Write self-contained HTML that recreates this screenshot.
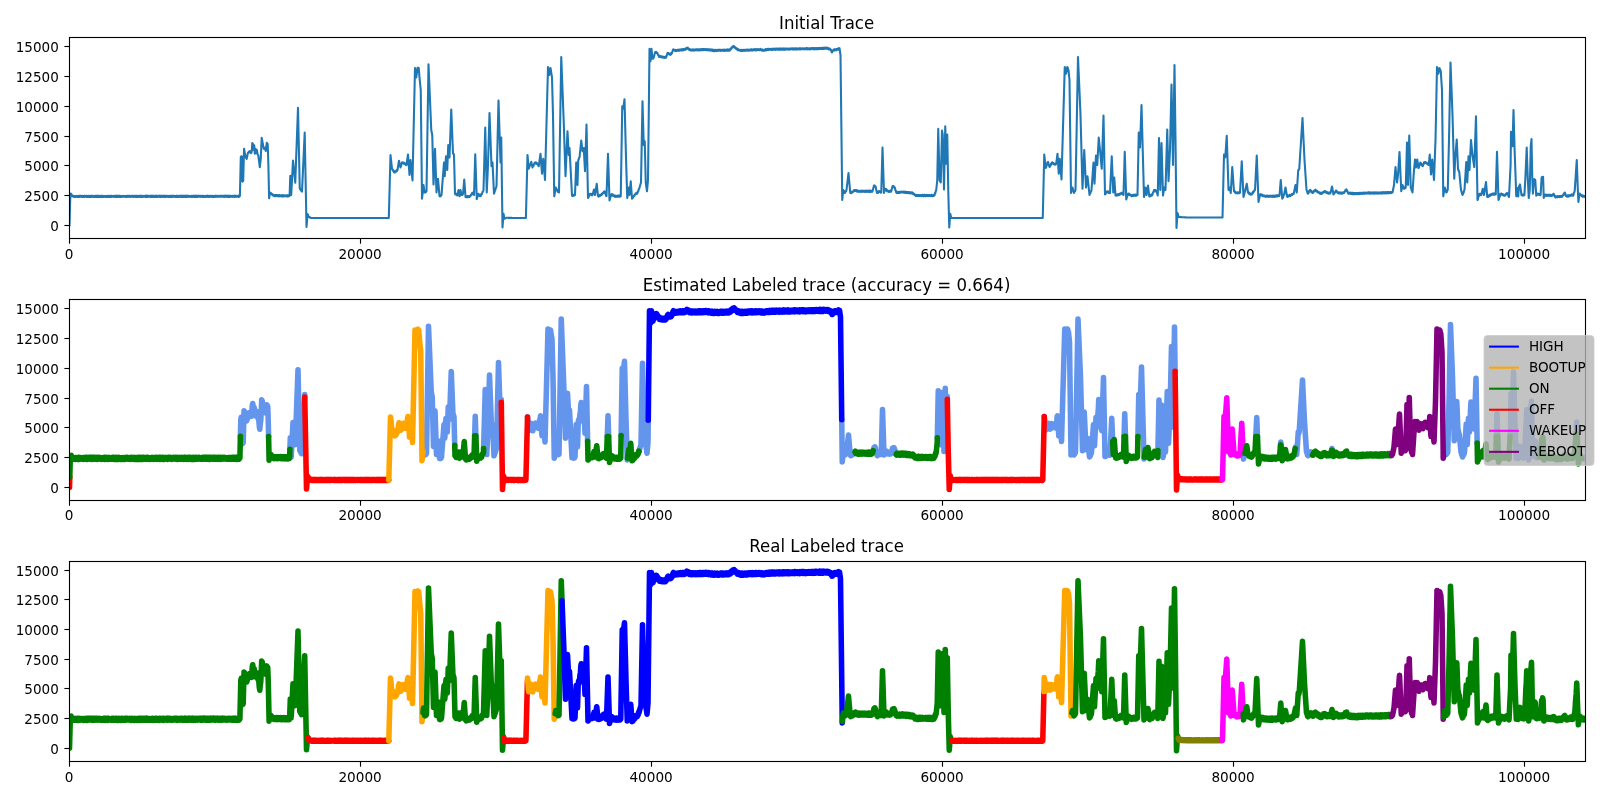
<!DOCTYPE html>
<html><head><meta charset="utf-8"><title>Trace</title>
<style>html,body{margin:0;padding:0;background:#fff}svg{display:block;will-change:transform}</style></head>
<body>
<svg width="1600" height="800" viewBox="0 0 1600 800" font-family="'DejaVu Sans', 'Liberation Sans', sans-serif">
<rect width="1600" height="800" fill="#fff"/>
<defs>
<clipPath id="c0"><rect x="69.5" y="37.5" width="1516.0" height="201.0"/></clipPath>
<clipPath id="c1"><rect x="69.5" y="299.5" width="1516.0" height="201.0"/></clipPath>
<clipPath id="c2"><rect x="69.5" y="561.5" width="1516.0" height="200.0"/></clipPath>
</defs>
<g clip-path="url(#c0)"><polyline fill="none" stroke="#1f77b4" stroke-width="2.08" stroke-linejoin="round" stroke-linecap="square" points="69.50,225.30 70.20,200.00 70.80,193.60 71.20,193.66 71.60,194.60 72.10,195.87 72.60,196.40 73.00,195.83 73.40,196.74 73.80,195.88 74.20,196.85 74.60,196.06 75.00,196.91 75.40,196.07 75.80,196.88 76.20,196.06 76.60,196.75 77.00,195.92 77.40,197.03 77.80,196.03 78.20,196.80 78.60,195.84 79.00,197.08 79.40,195.86 79.80,196.86 80.20,195.70 80.60,196.73 81.01,195.75 81.41,196.82 81.81,196.02 82.21,196.75 82.61,195.96 83.01,197.02 83.41,196.01 83.81,196.93 84.21,195.83 84.61,196.85 85.01,195.87 85.41,196.73 85.81,196.05 86.21,196.79 86.61,195.81 87.01,196.87 87.41,195.96 87.81,196.93 88.21,195.90 88.61,196.82 89.01,195.77 89.41,196.97 89.81,195.98 90.21,196.93 90.61,195.87 91.01,197.04 91.41,195.79 91.81,196.81 92.21,195.70 92.61,196.75 93.01,195.91 93.41,196.99 93.81,196.01 94.21,196.89 94.61,196.06 95.01,196.96 95.41,195.78 95.81,196.92 96.21,195.73 96.61,196.82 97.01,195.80 97.41,196.93 97.82,195.85 98.22,196.88 98.62,195.75 99.02,197.06 99.42,195.89 99.82,196.95 100.22,196.05 100.62,196.97 101.02,195.82 101.42,197.08 101.82,195.75 102.22,196.81 102.62,195.92 103.02,196.95 103.42,196.06 103.82,196.87 104.22,196.00 104.62,196.74 105.02,196.04 105.42,196.99 105.82,196.02 106.22,196.79 106.62,195.91 107.02,197.03 107.42,196.03 107.82,196.87 108.22,195.85 108.62,197.03 109.02,195.75 109.42,197.03 109.82,195.96 110.22,196.85 110.62,195.92 111.02,197.03 111.42,195.69 111.82,196.75 112.22,195.99 112.62,196.78 113.02,195.97 113.42,196.88 113.82,195.83 114.22,196.79 114.63,196.06 115.03,196.85 115.43,195.92 115.83,196.91 116.23,195.69 116.63,196.95 117.03,195.86 117.43,196.93 117.83,195.80 118.23,196.71 118.63,195.71 119.03,196.99 119.43,195.72 119.83,196.99 120.23,195.91 120.63,196.84 121.03,196.02 121.43,196.93 121.83,196.03 122.23,196.71 122.63,195.97 123.03,196.75 123.43,195.92 123.83,196.70 124.23,196.05 124.63,196.74 125.03,196.01 125.43,196.82 125.83,196.04 126.23,197.02 126.63,195.82 127.03,196.74 127.43,195.96 127.83,196.82 128.23,195.91 128.63,196.73 129.03,195.72 129.43,197.06 129.83,195.87 130.23,196.87 130.63,196.02 131.04,196.72 131.44,195.92 131.84,196.78 132.24,195.73 132.64,196.74 133.04,196.04 133.44,197.04 133.84,195.84 134.24,196.73 134.64,195.84 135.04,196.69 135.44,195.84 135.84,197.05 136.24,195.71 136.64,196.94 137.04,195.95 137.44,196.82 137.84,195.98 138.24,196.97 138.64,195.84 139.04,196.98 139.44,195.92 139.84,196.76 140.24,195.73 140.64,197.05 141.04,195.72 141.44,196.98 141.84,195.73 142.24,196.96 142.64,195.96 143.04,196.87 143.44,195.91 143.84,196.68 144.24,196.03 144.64,196.78 145.04,195.94 145.44,196.94 145.84,195.67 146.24,196.84 146.64,195.68 147.04,197.05 147.44,195.67 147.85,196.81 148.25,195.95 148.65,196.76 149.05,195.96 149.45,196.75 149.85,195.80 150.25,197.02 150.65,195.71 151.05,196.85 151.45,195.79 151.85,196.98 152.25,196.00 152.65,196.92 153.05,195.69 153.45,196.97 153.85,195.75 154.25,196.85 154.65,195.97 155.05,196.97 155.45,195.91 155.85,196.97 156.25,195.66 156.65,196.82 157.05,195.88 157.45,197.03 157.85,195.75 158.25,196.73 158.65,195.98 159.05,196.72 159.45,195.68 159.85,196.97 160.25,195.98 160.65,196.98 161.05,195.65 161.45,196.91 161.85,195.90 162.25,196.87 162.65,195.98 163.05,196.67 163.45,195.66 163.85,196.91 164.25,195.83 164.66,197.02 165.06,195.86 165.46,196.99 165.86,195.71 166.26,196.74 166.66,195.93 167.06,196.77 167.46,195.94 167.86,196.88 168.26,195.93 168.66,196.82 169.06,195.98 169.46,197.01 169.86,195.89 170.26,196.83 170.66,195.80 171.06,197.00 171.46,195.86 171.86,197.01 172.26,195.83 172.66,196.86 173.06,195.82 173.46,196.66 173.86,195.85 174.26,196.72 174.66,196.02 175.06,196.96 175.46,195.96 175.86,196.84 176.26,195.74 176.66,196.87 177.06,195.90 177.46,196.85 177.86,195.81 178.26,196.95 178.66,195.98 179.06,196.87 179.46,195.93 179.86,196.76 180.26,195.72 180.66,196.85 181.06,195.80 181.47,196.94 181.87,195.67 182.27,196.82 182.67,195.78 183.07,196.84 183.47,195.82 183.87,196.92 184.27,195.84 184.67,196.85 185.07,195.83 185.47,197.01 185.87,195.75 186.27,196.98 186.67,195.65 187.07,196.75 187.47,195.80 187.87,197.01 188.27,195.69 188.67,196.70 189.07,195.97 189.47,196.82 189.87,195.99 190.27,196.74 190.67,195.99 191.07,196.90 191.47,195.71 191.87,196.99 192.27,195.95 192.67,196.92 193.07,195.76 193.47,196.70 193.87,195.67 194.27,197.01 194.67,195.93 195.07,197.01 195.47,195.86 195.87,196.83 196.27,195.63 196.67,196.96 197.07,195.95 197.47,196.81 197.88,195.81 198.28,196.77 198.68,195.93 199.08,196.76 199.48,195.73 199.88,196.65 200.28,195.80 200.68,196.81 201.08,196.00 201.48,196.77 201.88,195.77 202.28,196.83 202.68,195.98 203.08,197.02 203.48,195.70 203.88,197.01 204.28,195.97 204.68,196.74 205.08,195.99 205.48,196.94 205.88,195.90 206.28,196.68 206.68,195.84 207.08,196.99 207.48,195.69 207.88,196.73 208.28,195.95 208.68,196.99 209.08,195.78 209.48,196.90 209.88,195.97 210.28,196.65 210.68,195.74 211.08,196.80 211.48,195.97 211.88,196.99 212.28,195.76 212.68,196.94 213.08,195.97 213.48,196.96 213.88,195.97 214.28,196.96 214.69,195.83 215.09,196.76 215.49,195.79 215.89,196.99 216.29,195.90 216.69,196.68 217.09,195.80 217.49,196.72 217.89,195.96 218.29,196.69 218.69,195.98 219.09,196.70 219.49,195.88 219.89,196.74 220.29,195.70 220.69,196.74 221.09,195.80 221.49,196.69 221.89,195.86 222.29,196.63 222.69,195.90 223.09,196.63 223.49,195.71 223.89,196.84 224.29,195.92 224.69,196.81 225.09,195.63 225.49,196.66 225.89,195.68 226.29,196.79 226.69,195.80 227.09,196.94 227.49,195.84 227.89,196.82 228.29,195.73 228.69,197.00 229.09,195.86 229.49,196.94 229.89,195.72 230.29,196.87 230.69,195.83 231.09,196.75 231.50,195.97 231.90,196.67 232.30,195.96 232.70,196.90 233.10,195.89 233.50,196.68 233.90,195.96 234.30,196.94 234.70,195.65 235.10,196.88 235.50,195.88 235.90,196.71 236.30,195.87 236.70,196.79 237.10,195.93 237.50,196.79 237.90,195.88 238.30,196.99 238.70,195.61 239.10,196.83 239.50,196.30 239.90,196.00 240.80,157.10 241.25,156.24 241.70,156.20 242.30,181.20 242.75,181.64 243.20,180.70 244.05,148.80 245.20,155.40 245.70,156.13 246.20,158.19 246.70,158.90 247.80,153.20 248.23,152.38 248.67,152.66 249.10,151.70 249.53,151.10 249.97,152.01 250.40,151.40 250.73,151.91 251.05,153.20 251.40,152.61 251.75,151.00 252.30,143.10 252.70,143.43 253.10,144.40 253.50,149.70 254.20,145.30 254.80,153.60 255.40,148.80 256.10,153.20 256.80,149.70 257.40,153.20 257.85,154.72 258.30,155.40 259.80,167.20 260.75,158.90 261.70,137.90 262.70,143.10 263.80,148.80 264.35,148.00 264.90,147.90 265.75,151.00 266.80,142.70 267.25,143.82 267.70,144.00 268.40,165.00 269.10,198.20 270.10,192.60 270.55,192.69 271.00,193.77 271.45,193.44 271.90,194.30 272.32,195.03 272.75,194.41 273.18,195.79 273.60,195.60 274.00,195.00 274.40,196.18 274.80,195.03 275.20,196.28 275.60,195.17 276.00,196.09 276.40,194.96 276.80,196.03 277.20,195.07 277.60,196.24 278.00,195.35 278.40,196.33 278.80,195.04 279.20,196.26 279.60,195.11 280.00,196.35 280.40,195.36 280.80,196.25 281.20,195.23 281.60,196.39 282.00,195.13 282.40,196.40 282.80,195.23 283.20,196.44 283.60,195.21 284.00,196.38 284.40,195.40 284.80,196.14 285.20,195.45 285.60,196.28 286.00,195.48 286.40,196.48 286.80,195.32 287.20,196.41 287.60,195.31 288.00,196.45 288.40,195.37 288.80,196.20 289.20,195.27 289.60,195.90 290.30,175.90 291.20,195.00 293.00,160.60 295.25,182.60 298.00,107.70 299.75,188.25 300.20,189.52 300.65,189.08 301.10,190.78 301.55,190.36 302.00,191.60 304.70,132.50 306.50,227.00 307.60,214.10 308.18,215.45 308.75,216.80 309.20,217.04 309.65,217.28 310.10,217.52 310.55,217.76 311.00,218.00 311.40,218.00 311.80,218.00 312.20,218.00 312.60,218.00 313.01,218.00 313.41,218.00 313.81,218.00 314.21,218.00 314.61,218.00 315.01,218.00 315.41,218.00 315.81,218.00 316.21,218.00 316.61,218.00 317.02,218.00 317.42,218.00 317.82,218.00 318.22,218.00 318.62,218.00 319.02,218.00 319.42,218.00 319.82,218.00 320.22,218.00 320.62,218.00 321.03,218.00 321.43,218.00 321.83,218.00 322.23,218.00 322.63,218.00 323.03,218.00 323.43,218.00 323.83,218.00 324.23,218.00 324.64,218.00 325.04,218.00 325.44,218.00 325.84,218.00 326.24,218.00 326.64,218.00 327.04,218.00 327.44,218.00 327.84,218.00 328.24,218.00 328.65,218.00 329.05,218.00 329.45,218.00 329.85,218.00 330.25,218.00 330.65,218.00 331.05,218.00 331.45,218.00 331.85,218.00 332.25,218.00 332.66,218.00 333.06,218.00 333.46,218.00 333.86,218.00 334.26,218.00 334.66,218.00 335.06,218.00 335.46,218.00 335.86,218.00 336.26,218.00 336.67,218.00 337.07,218.00 337.47,218.00 337.87,218.00 338.27,218.00 338.67,218.00 339.07,218.00 339.47,218.00 339.87,218.00 340.28,218.00 340.68,218.00 341.08,218.00 341.48,218.00 341.88,218.00 342.28,218.00 342.68,218.00 343.08,218.00 343.48,218.00 343.88,218.00 344.29,218.00 344.69,218.00 345.09,218.00 345.49,218.00 345.89,218.00 346.29,218.00 346.69,218.00 347.09,218.00 347.49,218.00 347.89,218.00 348.30,218.00 348.70,218.00 349.10,218.00 349.50,218.00 349.90,218.00 350.30,218.00 350.70,218.00 351.10,218.00 351.50,218.00 351.91,218.00 352.31,218.00 352.71,218.00 353.11,218.00 353.51,218.00 353.91,218.00 354.31,218.00 354.71,218.00 355.11,218.00 355.51,218.00 355.92,218.00 356.32,218.00 356.72,218.00 357.12,218.00 357.52,218.00 357.92,218.00 358.32,218.00 358.72,218.00 359.12,218.00 359.52,218.00 359.93,218.00 360.33,218.00 360.73,218.00 361.13,218.00 361.53,218.00 361.93,218.00 362.33,218.00 362.73,218.00 363.13,218.00 363.54,218.00 363.94,218.00 364.34,218.00 364.74,218.00 365.14,218.00 365.54,218.00 365.94,218.00 366.34,218.00 366.74,218.00 367.14,218.00 367.55,218.00 367.95,218.00 368.35,218.00 368.75,218.00 369.15,218.00 369.55,218.00 369.95,218.00 370.35,218.00 370.75,218.00 371.15,218.00 371.56,218.00 371.96,218.00 372.36,218.00 372.76,218.00 373.16,218.00 373.56,218.00 373.96,218.00 374.36,218.00 374.76,218.00 375.16,218.00 375.57,218.00 375.97,218.00 376.37,218.00 376.77,218.00 377.17,218.00 377.57,218.00 377.97,218.00 378.37,218.00 378.77,218.00 379.18,218.00 379.58,218.00 379.98,218.00 380.38,218.00 380.78,218.00 381.18,218.00 381.58,218.00 381.98,218.00 382.38,218.00 382.78,218.00 383.19,218.00 383.59,218.00 383.99,218.00 384.39,218.00 384.79,218.00 385.19,218.00 385.59,218.00 385.99,218.00 386.39,218.00 386.79,218.00 387.20,218.00 387.60,218.00 388.00,218.00 388.40,218.00 388.80,218.00 390.50,155.00 392.00,168.75 392.42,169.69 392.83,169.57 393.25,171.12 393.67,170.57 394.08,172.44 394.50,172.50 394.93,171.49 395.36,172.28 395.79,171.02 396.21,171.48 396.64,170.03 397.07,170.94 397.50,170.00 399.00,160.75 400.50,167.50 402.00,162.50 402.43,162.25 402.86,163.18 403.29,162.53 403.71,163.79 404.14,162.92 404.57,163.99 405.00,163.75 405.50,163.59 406.00,165.25 406.50,165.00 408.00,154.50 409.50,175.00 410.50,160.00 412.50,180.50 415.00,68.00 416.25,77.50 417.50,68.00 417.92,67.60 418.33,68.33 418.75,68.00 419.50,77.50 420.75,90.00 422.00,198.75 423.50,185.00 424.50,192.50 424.90,191.80 425.30,192.48 425.70,191.17 426.10,191.89 426.50,191.25 428.50,64.25 431.25,130.00 432.25,135.00 433.50,184.50 435.00,148.75 436.50,192.50 438.00,178.75 439.50,196.25 439.90,195.38 440.30,196.35 440.70,194.99 441.10,195.64 441.50,195.00 444.00,162.50 444.75,176.25 446.00,156.25 447.25,170.00 448.25,145.00 449.50,157.50 451.25,109.50 453.00,153.75 453.50,153.69 454.00,155.00 455.00,193.75 455.42,194.39 455.83,193.54 456.25,194.78 456.67,194.18 457.08,195.40 457.50,195.00 458.50,190.00 459.50,196.25 460.50,190.00 461.50,195.00 462.00,194.15 462.50,194.85 463.00,193.75 464.25,179.50 465.50,197.00 465.91,196.43 466.32,197.25 466.73,196.39 467.14,197.20 467.55,196.09 467.95,197.27 468.36,196.15 468.77,196.92 469.18,195.99 469.59,197.01 470.00,196.25 470.43,195.34 470.86,195.51 471.29,194.30 471.71,194.57 472.14,192.91 472.57,193.69 473.00,192.50 473.50,193.15 474.00,195.00 475.25,154.25 476.75,199.25 478.25,193.75 478.69,195.07 479.12,194.33 479.56,196.07 480.00,196.25 480.40,195.36 480.80,195.93 481.20,194.15 481.60,194.58 482.00,193.75 482.50,191.93 483.00,191.71 483.50,190.00 485.25,127.50 486.75,192.50 488.00,165.00 489.50,113.00 491.50,166.25 492.50,162.50 494.00,193.75 496.50,186.25 498.50,100.50 500.50,162.50 501.25,137.50 502.50,227.50 503.50,213.75 504.50,218.75 504.94,218.51 505.38,218.28 505.81,218.04 506.25,217.80 506.65,217.81 507.05,217.82 507.45,217.82 507.85,217.83 508.25,217.84 508.65,217.85 509.05,217.86 509.45,217.86 509.85,217.87 510.25,217.88 510.65,217.89 511.05,217.90 511.45,217.90 511.85,217.91 512.25,217.92 512.65,217.93 513.05,217.94 513.45,217.94 513.85,217.95 514.25,217.96 514.65,217.97 515.05,217.98 515.45,217.98 515.85,217.99 516.25,218.00 516.65,218.00 517.05,218.00 517.46,218.00 517.86,218.00 518.26,218.00 518.66,218.00 519.06,218.00 519.47,218.00 519.87,218.00 520.27,218.00 520.67,218.00 521.08,218.00 521.48,218.00 521.88,218.00 522.28,218.00 522.68,218.00 523.09,218.00 523.49,218.00 523.89,218.00 524.29,218.00 524.69,218.00 525.10,218.00 525.50,218.00 525.90,218.00 527.50,155.00 528.75,168.75 531.25,161.75 532.50,167.50 532.92,166.20 533.33,166.24 533.75,164.52 534.17,164.67 534.58,162.66 535.00,162.50 535.42,163.09 535.83,162.29 536.25,163.72 536.67,162.70 537.08,164.15 537.50,163.75 537.92,164.03 538.33,165.86 538.75,166.25 540.50,153.75 542.00,173.75 543.25,158.75 545.00,180.00 548.00,67.00 549.25,75.00 550.50,68.00 552.00,77.50 553.00,115.00 554.25,196.25 555.75,187.50 556.19,188.00 556.62,189.83 557.06,189.70 557.50,191.25 558.00,192.01 558.50,191.69 559.00,192.50 561.25,57.00 563.75,122.50 565.50,176.25 567.50,131.25 568.75,155.00 569.50,148.00 572.00,195.50 572.43,196.03 572.86,194.95 573.29,195.63 573.71,194.89 574.14,195.67 574.57,194.63 575.00,195.00 576.25,162.50 577.50,185.00 578.25,160.00 578.67,159.86 579.08,157.68 579.50,157.50 581.25,140.50 582.50,151.25 582.92,150.86 583.33,148.67 583.75,148.00 585.00,171.25 586.50,124.50 588.00,198.00 588.40,197.50 588.80,195.95 589.20,195.96 589.60,194.01 590.00,193.75 590.42,194.45 590.83,193.76 591.25,194.85 591.67,194.03 592.08,195.37 592.50,195.00 594.00,189.50 595.00,195.00 596.75,183.75 598.00,196.25 598.41,195.49 598.81,196.58 599.22,195.21 599.62,195.99 600.03,194.83 600.44,195.74 600.84,194.62 601.25,195.00 601.66,194.99 602.06,193.46 602.47,193.99 602.88,192.71 603.28,193.07 603.69,191.81 604.09,192.37 604.50,191.25 604.90,191.71 605.30,193.69 605.70,193.78 606.10,195.95 606.50,196.25 608.00,153.75 609.50,200.50 611.25,194.50 611.67,194.18 612.08,195.29 612.50,194.46 612.92,195.84 613.33,194.78 613.75,196.02 614.17,195.36 614.58,196.69 615.00,196.25 615.41,195.61 615.82,196.92 616.23,195.92 616.64,196.68 617.05,195.89 617.46,196.64 617.88,195.56 618.29,196.79 618.70,195.58 619.11,196.71 619.52,195.60 619.93,196.74 620.34,195.83 620.75,196.25 622.25,106.25 622.75,108.11 623.25,108.75 624.50,99.25 626.00,157.50 627.25,198.00 628.75,187.50 629.50,195.00 630.75,181.25 632.00,198.75 632.44,197.45 632.88,197.86 633.31,196.33 633.75,196.25 634.19,196.18 634.62,194.60 635.06,194.83 635.50,193.75 635.90,193.23 636.30,193.84 636.70,192.89 637.10,193.70 637.50,193.00 637.90,191.33 638.30,191.19 638.70,189.38 639.10,189.04 639.50,187.50 641.00,182.50 642.50,101.25 643.75,145.00 644.75,141.25 645.75,182.50 647.00,191.25 648.00,180.00 649.50,48.75 650.50,61.25 651.50,48.75 652.50,58.75 652.92,57.76 653.33,58.30 653.75,57.50 655.00,52.50 655.40,52.06 655.80,52.89 656.20,51.88 656.60,53.03 657.00,52.50 657.44,53.10 657.88,54.73 658.31,54.85 658.75,56.25 659.17,56.86 659.58,55.86 660.00,56.85 660.42,56.21 660.83,57.25 661.25,56.75 661.67,56.36 662.08,57.34 662.50,56.57 662.92,57.77 663.33,56.73 663.75,57.78 664.17,56.88 664.58,57.89 665.00,57.50 665.42,56.69 665.83,57.87 666.25,57.00 667.50,53.00 667.92,52.79 668.33,53.89 668.75,53.15 669.17,54.39 669.58,53.93 670.00,54.50 670.40,54.86 670.80,53.42 671.20,54.23 671.60,52.83 672.00,53.00 673.00,49.50 673.40,50.35 673.80,49.41 674.20,50.48 674.60,49.98 675.00,50.50 675.42,50.99 675.83,49.86 676.25,51.04 676.67,49.98 677.08,50.85 677.50,49.79 677.92,50.72 678.33,49.80 678.75,50.55 679.17,49.57 679.58,50.71 680.00,50.00 680.42,49.60 680.83,50.42 681.25,49.25 681.67,50.52 682.08,49.40 682.50,50.11 682.92,49.03 683.33,50.36 683.75,49.12 684.17,49.92 684.58,48.87 685.00,49.50 685.42,49.71 685.83,48.34 686.25,49.30 686.67,47.87 687.08,48.63 687.50,48.00 687.92,47.72 688.33,49.07 688.75,48.53 689.17,49.97 689.58,49.03 690.00,50.00 690.42,50.39 690.83,49.60 691.25,50.47 691.67,49.49 692.08,50.46 692.50,49.64 692.92,50.41 693.33,49.41 693.75,50.66 694.17,49.67 694.58,50.53 695.00,50.00 695.40,49.37 695.80,50.29 696.20,49.30 696.60,50.28 697.00,49.35 697.40,50.41 697.80,49.30 698.20,50.27 698.60,49.34 699.00,50.34 699.40,49.30 699.80,50.33 700.20,49.25 700.60,50.20 701.00,49.38 701.40,50.23 701.80,49.16 702.20,50.05 702.60,49.01 703.00,50.22 703.40,49.09 703.80,49.94 704.20,49.04 704.60,49.88 705.00,49.50 705.40,49.18 705.80,50.06 706.20,49.27 706.60,50.15 707.00,49.19 707.40,50.07 707.80,49.22 708.20,50.17 708.60,49.26 709.00,50.51 709.40,49.43 709.80,50.32 710.20,49.51 710.60,50.52 711.00,49.42 711.40,50.51 711.80,49.54 712.20,50.92 712.60,49.66 713.00,50.93 713.40,49.95 713.80,51.07 714.20,49.92 714.60,51.14 715.00,50.50 715.41,49.82 715.81,50.85 716.22,49.84 716.62,51.12 717.03,50.09 717.43,50.87 717.84,49.80 718.24,50.77 718.65,49.72 719.05,50.79 719.46,49.72 719.86,50.71 720.27,49.82 720.68,50.98 721.08,49.90 721.49,50.70 721.89,49.76 722.30,50.69 722.70,49.91 723.11,50.61 723.51,49.84 723.92,50.88 724.32,49.61 724.73,50.84 725.14,49.78 725.54,50.77 725.95,49.78 726.35,50.64 726.76,49.55 727.16,50.55 727.57,49.43 727.97,50.60 728.38,49.52 728.78,50.70 729.19,49.67 729.59,50.71 730.00,50.00 730.40,48.94 730.80,49.47 731.20,47.88 731.60,48.42 732.00,47.50 732.44,46.49 732.88,47.41 733.31,46.11 733.75,46.25 734.17,47.28 734.58,46.60 735.00,47.88 735.42,47.32 735.83,48.67 736.25,48.75 736.67,48.31 737.08,49.55 737.50,48.77 737.92,50.22 738.33,49.18 738.75,50.49 739.17,49.68 739.58,50.62 740.00,50.50 740.40,50.15 740.80,50.83 741.20,49.89 741.60,50.90 742.00,49.89 742.40,51.04 742.80,49.99 743.20,50.74 743.60,49.75 744.00,50.62 744.40,49.96 744.80,50.71 745.20,49.88 745.60,50.67 746.00,49.80 746.40,50.72 746.80,49.62 747.20,50.53 747.60,49.56 748.00,50.60 748.40,49.71 748.80,50.74 749.20,49.63 749.60,50.39 750.00,50.00 750.40,49.63 750.80,50.52 751.20,49.29 751.60,50.54 752.00,49.43 752.40,50.30 752.80,49.54 753.20,50.40 753.60,49.29 754.00,50.25 754.40,49.22 754.80,50.25 755.20,49.06 755.60,50.32 756.00,49.29 756.40,50.34 756.80,49.33 757.20,50.16 757.60,49.15 758.00,50.01 758.40,49.24 758.80,50.17 759.20,49.22 759.60,50.05 760.00,49.50 760.42,48.93 760.83,50.09 761.25,49.44 761.67,50.49 762.08,49.55 762.50,50.73 762.92,49.65 763.33,50.77 763.75,50.50 764.17,49.90 764.58,50.60 765.00,49.67 765.42,50.49 765.83,49.05 766.25,49.50 766.66,50.08 767.07,49.16 767.47,50.11 767.88,48.85 768.29,49.94 768.70,48.83 769.10,49.91 769.51,49.01 769.92,49.76 770.33,48.99 770.73,49.71 771.14,48.93 771.55,49.96 771.96,48.77 772.36,49.98 772.77,48.74 773.18,49.73 773.59,48.78 773.99,49.78 774.40,48.66 774.81,49.79 775.22,48.84 775.62,49.81 776.03,48.55 776.44,49.63 776.85,48.56 777.26,49.53 777.66,48.78 778.07,49.59 778.48,48.57 778.89,49.84 779.29,48.55 779.70,49.58 780.11,48.48 780.52,49.56 780.92,48.70 781.33,49.76 781.74,48.53 782.15,49.66 782.55,48.49 782.96,49.75 783.37,48.55 783.78,49.67 784.18,48.44 784.59,49.66 785.00,49.00 785.40,48.51 785.81,49.59 786.21,48.45 786.61,49.42 787.02,48.58 787.42,49.53 787.82,48.63 788.23,49.63 788.63,48.59 789.03,49.29 789.44,48.60 789.84,49.62 790.24,48.50 790.65,49.31 791.05,48.61 791.45,49.27 791.85,48.35 792.26,49.49 792.66,48.34 793.06,49.52 793.47,48.58 793.87,49.45 794.27,48.45 794.68,49.53 795.08,48.27 795.48,49.55 795.89,48.55 796.29,49.54 796.69,48.22 797.10,49.56 797.50,48.52 797.90,49.27 798.31,48.51 798.71,49.19 799.11,48.22 799.52,49.48 799.92,48.29 800.32,49.48 800.73,48.28 801.13,49.26 801.53,48.48 801.94,49.18 802.34,48.22 802.74,49.22 803.15,48.38 803.55,49.29 803.95,48.49 804.35,49.22 804.76,48.38 805.16,49.39 805.56,48.34 805.97,49.23 806.37,48.10 806.77,49.29 807.18,48.14 807.58,49.33 807.98,48.44 808.39,49.24 808.79,48.28 809.19,49.37 809.60,48.31 810.00,48.75 810.41,49.32 810.81,48.20 811.22,49.11 811.63,48.06 812.03,49.04 812.44,48.05 812.85,49.05 813.26,48.34 813.66,49.04 814.07,48.03 814.48,49.31 814.88,48.29 815.29,49.10 815.70,48.08 816.10,49.20 816.51,48.18 816.92,49.06 817.33,48.09 817.73,49.16 818.14,48.10 818.55,49.18 818.95,48.07 819.36,48.88 819.77,47.89 820.17,48.97 820.58,48.09 820.99,49.00 821.40,48.08 821.80,49.03 822.21,47.82 822.62,49.01 823.02,47.82 823.43,48.82 823.84,47.89 824.24,48.81 824.65,47.67 825.06,48.67 825.47,47.65 825.87,48.62 826.28,47.89 826.69,48.69 827.09,47.60 827.50,48.25 827.91,48.91 828.31,48.10 828.72,49.37 829.12,48.47 829.53,49.52 829.94,48.67 830.34,49.95 830.75,49.50 831.17,49.90 831.58,52.06 832.00,52.50 832.42,51.22 832.83,51.27 833.25,50.00 833.67,49.58 834.10,50.54 834.52,49.28 834.95,50.40 835.38,49.37 835.80,50.18 836.23,49.04 836.65,50.14 837.08,49.19 837.50,49.50 837.90,49.74 838.30,48.34 838.70,49.16 839.10,48.11 839.50,48.25 840.50,55.00 842.25,200.00 843.25,190.00 843.69,191.18 844.12,190.91 844.56,192.89 845.00,193.00 845.50,191.63 846.00,191.38 846.50,190.00 848.50,173.00 850.25,193.00 850.70,192.39 851.15,193.04 851.60,191.88 852.05,192.58 852.50,192.00 852.92,191.23 853.33,191.72 853.75,190.31 854.17,191.26 854.58,189.98 855.00,190.00 855.42,190.89 855.83,190.06 856.25,191.09 856.67,190.14 857.08,191.66 857.50,191.25 857.92,190.65 858.33,191.73 858.75,190.86 859.17,191.81 859.58,190.89 860.00,191.64 860.42,190.79 860.83,191.58 861.25,190.78 861.67,191.87 862.08,190.67 862.50,191.76 862.92,190.69 863.33,191.74 863.75,190.88 864.17,191.80 864.58,190.78 865.00,191.25 865.42,191.85 865.83,190.59 866.25,191.73 866.67,190.71 867.08,191.85 867.50,190.77 867.92,191.65 868.33,190.66 868.75,191.90 869.17,190.64 869.58,191.83 870.00,190.61 870.42,191.83 870.83,190.69 871.25,191.74 871.67,190.81 872.08,191.81 872.50,191.25 874.00,185.50 874.50,185.40 875.00,186.48 875.50,186.25 877.00,193.00 877.42,192.09 877.83,193.01 878.25,191.57 878.67,192.24 879.08,191.06 879.50,191.25 879.94,192.05 880.38,191.32 880.81,192.66 881.25,192.50 882.50,147.50 884.00,193.00 884.50,191.01 885.00,190.84 885.50,188.75 885.90,188.86 886.30,190.32 886.70,189.64 887.10,191.21 887.50,191.25 887.92,190.75 888.33,191.94 888.75,190.92 889.17,191.77 889.58,190.87 890.00,191.87 890.42,190.57 890.83,191.76 891.25,191.25 892.50,186.25 892.90,186.05 893.30,187.09 893.70,186.18 894.10,187.44 894.50,187.00 894.94,187.86 895.38,190.31 895.81,190.49 896.25,192.50 896.67,192.98 897.08,191.96 897.50,193.08 897.92,191.97 898.33,192.91 898.75,191.83 899.17,192.88 899.58,191.87 900.00,192.89 900.42,191.71 900.83,192.47 901.25,191.68 901.67,192.54 902.08,191.71 902.50,192.00 902.90,192.52 903.30,191.60 903.70,192.70 904.10,191.71 904.50,192.62 904.90,191.84 905.30,192.88 905.70,191.64 906.10,192.88 906.50,192.00 906.90,193.06 907.30,192.01 907.70,192.92 908.10,192.20 908.50,193.21 908.90,192.01 909.30,193.24 909.70,192.22 910.10,193.29 910.50,192.40 910.90,193.53 911.30,192.43 911.70,193.48 912.10,192.33 912.50,193.00 912.93,193.99 913.36,193.22 913.79,194.50 914.21,193.90 914.64,195.15 915.07,194.51 915.50,195.50 915.91,195.95 916.33,194.86 916.74,195.92 917.15,195.04 917.57,195.91 917.98,195.02 918.39,195.89 918.80,195.18 919.22,196.09 919.63,195.08 920.04,195.91 920.46,195.07 920.87,196.00 921.28,195.02 921.70,196.06 922.11,194.93 922.52,195.95 922.93,194.83 923.35,196.14 923.76,195.16 924.17,196.13 924.59,194.84 925.00,195.50 925.40,196.12 925.80,195.13 926.21,196.14 926.61,194.94 927.01,195.82 927.41,195.18 927.82,196.18 928.22,194.93 928.62,195.91 929.02,195.15 929.42,195.87 929.83,195.10 930.23,196.11 930.63,195.05 931.03,195.87 931.43,194.84 931.84,196.12 932.24,195.12 932.64,196.16 933.04,194.95 933.45,196.12 933.85,194.93 934.25,195.50 934.65,195.06 935.05,192.68 935.45,192.84 935.85,190.71 936.25,190.00 937.25,180.00 938.25,128.75 939.50,180.00 939.92,181.42 940.33,181.15 940.75,182.50 942.00,130.50 942.75,135.00 944.00,189.50 945.25,126.25 946.25,163.75 947.25,134.50 948.25,190.00 949.25,227.50 950.25,213.75 951.25,218.00 951.65,218.00 952.05,218.00 952.46,218.00 952.86,218.00 953.26,218.00 953.66,218.00 954.06,218.00 954.46,218.00 954.87,218.00 955.27,218.00 955.67,218.00 956.07,218.00 956.47,218.00 956.88,218.00 957.28,218.00 957.68,218.00 958.08,218.00 958.48,218.00 958.88,218.00 959.29,218.00 959.69,218.00 960.09,218.00 960.49,218.00 960.89,218.00 961.29,218.00 961.70,218.00 962.10,218.00 962.50,218.00 962.90,218.00 963.30,218.00 963.70,218.00 964.11,218.00 964.51,218.00 964.91,218.00 965.31,218.00 965.71,218.00 966.11,218.00 966.51,218.00 966.91,218.00 967.32,218.00 967.72,218.00 968.12,218.00 968.52,218.00 968.92,218.00 969.32,218.00 969.72,218.00 970.12,218.00 970.52,218.00 970.93,218.00 971.33,218.00 971.73,218.00 972.13,218.00 972.53,218.00 972.93,218.00 973.33,218.00 973.74,218.00 974.14,218.00 974.54,218.00 974.94,218.00 975.34,218.00 975.74,218.00 976.14,218.00 976.54,218.00 976.95,218.00 977.35,218.00 977.75,218.00 978.15,218.00 978.55,218.00 978.95,218.00 979.35,218.00 979.75,218.00 980.15,218.00 980.56,218.00 980.96,218.00 981.36,218.00 981.76,218.00 982.16,218.00 982.56,218.00 982.96,218.00 983.37,218.00 983.77,218.00 984.17,218.00 984.57,218.00 984.97,218.00 985.37,218.00 985.77,218.00 986.17,218.00 986.58,218.00 986.98,218.00 987.38,218.00 987.78,218.00 988.18,218.00 988.58,218.00 988.98,218.00 989.38,218.00 989.78,218.00 990.19,218.00 990.59,218.00 990.99,218.00 991.39,218.00 991.79,218.00 992.19,218.00 992.59,218.00 993.00,218.00 993.40,218.00 993.80,218.00 994.20,218.00 994.60,218.00 995.00,218.00 995.40,218.00 995.80,218.00 996.21,218.00 996.61,218.00 997.01,218.00 997.41,218.00 997.81,218.00 998.21,218.00 998.61,218.00 999.01,218.00 999.41,218.00 999.82,218.00 1000.22,218.00 1000.62,218.00 1001.02,218.00 1001.42,218.00 1001.82,218.00 1002.22,218.00 1002.62,218.00 1003.03,218.00 1003.43,218.00 1003.83,218.00 1004.23,218.00 1004.63,218.00 1005.03,218.00 1005.43,218.00 1005.84,218.00 1006.24,218.00 1006.64,218.00 1007.04,218.00 1007.44,218.00 1007.84,218.00 1008.24,218.00 1008.64,218.00 1009.04,218.00 1009.45,218.00 1009.85,218.00 1010.25,218.00 1010.65,218.00 1011.05,218.00 1011.45,218.00 1011.85,218.00 1012.25,218.00 1012.66,218.00 1013.06,218.00 1013.46,218.00 1013.86,218.00 1014.26,218.00 1014.66,218.00 1015.06,218.00 1015.47,218.00 1015.87,218.00 1016.27,218.00 1016.67,218.00 1017.07,218.00 1017.47,218.00 1017.87,218.00 1018.27,218.00 1018.67,218.00 1019.08,218.00 1019.48,218.00 1019.88,218.00 1020.28,218.00 1020.68,218.00 1021.08,218.00 1021.48,218.00 1021.88,218.00 1022.29,218.00 1022.69,218.00 1023.09,218.00 1023.49,218.00 1023.89,218.00 1024.29,218.00 1024.69,218.00 1025.10,218.00 1025.50,218.00 1025.90,218.00 1026.30,218.00 1026.70,218.00 1027.10,218.00 1027.50,218.00 1027.90,218.00 1028.31,218.00 1028.71,218.00 1029.11,218.00 1029.51,218.00 1029.91,218.00 1030.31,218.00 1030.71,218.00 1031.11,218.00 1031.52,218.00 1031.92,218.00 1032.32,218.00 1032.72,218.00 1033.12,218.00 1033.52,218.00 1033.92,218.00 1034.32,218.00 1034.72,218.00 1035.13,218.00 1035.53,218.00 1035.93,218.00 1036.33,218.00 1036.73,218.00 1037.13,218.00 1037.53,218.00 1037.93,218.00 1038.34,218.00 1038.74,218.00 1039.14,218.00 1039.54,218.00 1039.94,218.00 1040.34,218.00 1040.74,218.00 1041.14,218.00 1041.55,218.00 1041.95,218.00 1042.35,218.00 1042.75,218.00 1044.25,154.50 1045.75,168.00 1046.20,167.24 1046.65,165.15 1047.10,164.88 1047.55,162.39 1048.00,161.75 1049.50,167.00 1049.92,166.65 1050.33,164.96 1050.75,165.41 1051.17,163.34 1051.58,163.77 1052.00,162.50 1052.42,162.29 1052.83,163.63 1053.25,162.99 1053.67,164.06 1054.08,163.57 1054.50,164.25 1054.94,164.71 1055.38,163.55 1055.81,164.41 1056.25,163.75 1057.50,153.75 1058.75,173.75 1059.75,158.75 1061.50,179.50 1064.75,67.00 1066.00,73.75 1067.25,67.00 1067.67,67.53 1068.08,69.51 1068.50,70.00 1069.50,80.00 1071.00,193.00 1072.50,187.50 1074.00,193.00 1074.50,191.63 1075.00,191.33 1075.50,190.00 1078.00,57.00 1080.50,115.00 1082.50,188.75 1084.25,150.00 1086.00,187.50 1087.50,176.25 1089.50,195.00 1089.90,193.30 1090.30,193.46 1090.70,191.64 1091.10,191.56 1091.50,190.00 1093.50,162.50 1094.50,183.75 1096.00,155.50 1097.25,165.00 1098.75,137.50 1100.25,152.50 1101.75,168.75 1103.50,115.50 1105.00,194.50 1105.42,193.34 1105.83,193.79 1106.25,192.33 1106.67,192.78 1107.08,191.28 1107.50,191.25 1107.92,191.86 1108.33,191.51 1108.75,192.82 1109.17,191.77 1109.58,193.21 1110.00,193.00 1111.75,156.25 1113.25,192.50 1114.25,177.50 1115.50,195.50 1115.91,194.84 1116.31,195.67 1116.72,194.51 1117.12,195.48 1117.53,194.20 1117.94,195.36 1118.34,193.99 1118.75,194.50 1119.17,195.02 1119.58,193.75 1120.00,194.33 1120.42,193.44 1120.83,194.05 1121.25,193.15 1121.67,193.67 1122.08,192.64 1122.50,193.00 1123.00,194.65 1123.50,195.00 1124.75,151.75 1126.25,199.50 1128.00,193.75 1128.41,193.48 1128.81,194.87 1129.22,193.74 1129.62,194.96 1130.03,194.30 1130.44,195.53 1130.84,194.92 1131.25,195.50 1131.67,196.15 1132.08,195.02 1132.50,195.93 1132.92,194.81 1133.33,196.02 1133.75,194.73 1134.17,195.73 1134.58,194.75 1135.00,195.58 1135.42,194.48 1135.83,195.83 1136.25,194.70 1136.67,195.40 1137.08,194.62 1137.50,195.00 1138.75,132.50 1140.00,147.50 1141.50,105.00 1143.00,160.00 1144.00,197.00 1145.50,187.50 1146.50,195.00 1148.00,185.50 1149.25,196.25 1149.66,196.48 1150.06,195.15 1150.47,196.26 1150.88,194.74 1151.28,195.49 1151.69,194.32 1152.09,195.31 1152.50,194.50 1153.00,192.44 1153.50,192.19 1154.00,190.00 1154.42,189.87 1154.83,190.79 1155.25,190.02 1155.67,191.51 1156.08,190.47 1156.50,191.25 1157.75,195.50 1159.00,138.00 1160.25,190.00 1161.50,143.00 1163.00,195.50 1164.25,187.50 1164.67,188.76 1165.08,188.62 1165.50,190.00 1167.25,129.50 1168.50,181.25 1170.00,150.00 1171.50,84.50 1173.00,165.00 1174.50,65.00 1175.50,140.00 1176.50,228.00 1177.50,213.00 1178.75,217.00 1179.17,217.02 1179.58,217.05 1180.00,217.07 1180.42,217.10 1180.83,217.12 1181.25,217.14 1181.67,217.17 1182.08,217.19 1182.50,217.21 1182.92,217.24 1183.33,217.26 1183.75,217.29 1184.17,217.31 1184.58,217.33 1185.00,217.36 1185.42,217.38 1185.83,217.40 1186.25,217.43 1186.67,217.45 1187.08,217.48 1187.50,217.50 1187.90,217.50 1188.30,217.50 1188.71,217.50 1189.11,217.50 1189.51,217.50 1189.91,217.50 1190.32,217.50 1190.72,217.50 1191.12,217.50 1191.52,217.50 1191.93,217.50 1192.33,217.50 1192.73,217.50 1193.13,217.50 1193.53,217.50 1193.94,217.50 1194.34,217.50 1194.74,217.50 1195.14,217.50 1195.55,217.50 1195.95,217.50 1196.35,217.50 1196.75,217.50 1197.16,217.50 1197.56,217.50 1197.96,217.50 1198.36,217.50 1198.76,217.50 1199.17,217.50 1199.57,217.50 1199.97,217.50 1200.37,217.50 1200.78,217.50 1201.18,217.50 1201.58,217.50 1201.98,217.50 1202.39,217.50 1202.79,217.50 1203.19,217.50 1203.59,217.50 1203.99,217.50 1204.40,217.50 1204.80,217.50 1205.20,217.50 1205.60,217.50 1206.01,217.50 1206.41,217.50 1206.81,217.50 1207.21,217.50 1207.61,217.50 1208.02,217.50 1208.42,217.50 1208.82,217.50 1209.22,217.50 1209.63,217.50 1210.03,217.50 1210.43,217.50 1210.83,217.50 1211.24,217.50 1211.64,217.50 1212.04,217.50 1212.44,217.50 1212.84,217.50 1213.25,217.50 1213.65,217.50 1214.05,217.50 1214.45,217.50 1214.86,217.50 1215.26,217.50 1215.66,217.50 1216.06,217.50 1216.47,217.50 1216.87,217.50 1217.27,217.50 1217.67,217.50 1218.07,217.50 1218.48,217.50 1218.88,217.50 1219.28,217.50 1219.68,217.50 1220.09,217.50 1220.49,217.50 1220.89,217.50 1221.29,217.50 1221.70,217.50 1222.10,217.50 1222.50,217.50 1224.00,154.50 1224.42,155.82 1224.83,155.83 1225.25,157.50 1226.75,135.75 1228.50,190.00 1229.00,189.25 1229.50,187.50 1230.75,193.00 1232.25,167.00 1234.00,191.25 1234.45,190.95 1234.90,192.37 1235.35,191.91 1235.80,193.29 1236.25,193.00 1236.67,192.49 1237.08,193.27 1237.50,192.38 1237.92,193.32 1238.33,192.41 1238.75,193.18 1239.17,192.12 1239.58,193.07 1240.00,192.50 1241.75,161.25 1243.50,197.00 1245.00,191.25 1246.75,183.75 1248.00,192.50 1248.41,192.39 1248.81,193.59 1249.22,192.62 1249.62,194.15 1250.03,193.31 1250.44,194.59 1250.84,193.79 1251.25,194.50 1251.67,194.60 1252.08,193.16 1252.50,193.65 1252.92,191.82 1253.33,192.51 1253.75,190.99 1254.17,191.52 1254.58,189.98 1255.00,190.00 1256.75,155.50 1258.50,202.00 1260.00,194.50 1260.42,194.97 1260.83,194.10 1261.25,195.34 1261.67,194.70 1262.08,195.58 1262.50,194.96 1262.92,196.15 1263.33,195.34 1263.75,196.16 1264.17,195.37 1264.58,196.49 1265.00,196.25 1265.40,195.93 1265.80,196.80 1266.20,195.71 1266.60,196.77 1267.00,195.66 1267.40,196.60 1267.80,195.60 1268.20,196.84 1268.60,195.92 1269.00,196.61 1269.40,195.74 1269.80,196.76 1270.20,195.83 1270.60,196.61 1271.00,195.78 1271.40,196.62 1271.80,195.71 1272.20,196.90 1272.60,195.88 1273.00,196.79 1273.40,195.65 1273.80,196.63 1274.20,195.62 1274.60,196.93 1275.00,196.25 1275.41,195.72 1275.82,196.59 1276.23,195.41 1276.64,196.49 1277.05,195.44 1277.45,196.52 1277.86,195.16 1278.27,196.15 1278.68,195.23 1279.09,196.01 1279.50,195.50 1280.75,180.00 1282.25,198.75 1282.69,197.33 1283.12,197.57 1283.56,195.31 1284.00,195.00 1285.50,187.50 1287.00,196.25 1287.43,196.81 1287.86,195.41 1288.29,196.57 1288.71,195.49 1289.14,196.23 1289.57,194.92 1290.00,195.50 1290.42,195.98 1290.83,194.70 1291.25,195.39 1291.67,194.16 1292.08,194.98 1292.50,193.81 1292.92,194.48 1293.33,193.46 1293.75,193.75 1295.50,185.00 1296.75,192.50 1298.25,170.00 1298.75,169.88 1299.25,168.75 1302.50,118.00 1304.50,160.00 1306.50,190.00 1307.00,190.93 1307.50,192.87 1308.00,193.75 1308.40,192.31 1308.80,192.86 1309.20,190.82 1309.60,191.31 1310.00,190.00 1310.42,189.87 1310.83,191.66 1311.25,190.84 1311.67,192.33 1312.08,191.94 1312.50,193.00 1312.92,192.92 1313.33,191.42 1313.75,191.92 1314.17,190.48 1314.58,191.17 1315.00,190.00 1315.42,189.72 1315.83,190.97 1316.25,190.32 1316.67,191.59 1317.08,190.71 1317.50,192.09 1317.92,191.51 1318.33,192.79 1318.75,192.50 1319.17,192.35 1319.58,193.46 1320.00,192.44 1320.42,193.85 1320.83,193.12 1321.25,193.75 1321.66,193.93 1322.06,192.60 1322.47,193.18 1322.88,192.14 1323.28,192.55 1323.69,191.45 1324.09,192.03 1324.50,191.25 1324.93,191.07 1325.36,192.16 1325.79,191.65 1326.21,192.78 1326.64,191.86 1327.07,193.30 1327.50,193.00 1327.93,192.47 1328.36,193.57 1328.79,192.61 1329.21,193.59 1329.64,192.51 1330.07,193.53 1330.50,193.00 1332.00,186.50 1333.50,194.50 1333.96,193.28 1334.42,193.66 1334.88,192.07 1335.33,192.24 1335.79,190.77 1336.25,190.50 1336.69,191.64 1337.12,191.29 1337.56,192.92 1338.00,193.00 1338.41,192.68 1338.82,193.45 1339.23,192.35 1339.64,193.41 1340.05,192.47 1340.46,193.50 1340.88,192.58 1341.29,193.70 1341.70,192.57 1342.11,193.61 1342.52,192.62 1342.93,193.34 1343.34,192.35 1343.75,193.00 1344.17,192.86 1344.58,191.41 1345.00,191.59 1345.42,190.02 1345.83,190.47 1346.25,189.25 1346.69,189.83 1347.12,191.53 1347.56,191.38 1348.00,193.00 1348.41,193.64 1348.82,192.71 1349.24,193.58 1349.65,192.73 1350.06,193.80 1350.47,192.71 1350.88,193.95 1351.29,192.72 1351.71,193.91 1352.12,192.84 1352.53,194.09 1352.94,192.92 1353.35,194.07 1353.76,193.00 1354.18,194.25 1354.59,193.04 1355.00,193.75 1355.40,194.09 1355.81,193.05 1356.21,193.99 1356.61,193.04 1357.02,194.17 1357.42,193.10 1357.82,194.27 1358.23,193.02 1358.63,194.01 1359.03,192.89 1359.44,194.13 1359.84,192.91 1360.24,193.90 1360.65,192.92 1361.05,193.88 1361.45,192.77 1361.85,193.77 1362.26,192.85 1362.66,193.82 1363.06,192.80 1363.47,193.68 1363.87,192.60 1364.27,193.84 1364.68,192.66 1365.08,193.63 1365.48,192.74 1365.89,193.53 1366.29,192.70 1366.69,193.58 1367.10,192.49 1367.50,193.00 1367.90,193.35 1368.31,192.33 1368.71,193.44 1369.11,192.36 1369.52,193.64 1369.92,192.32 1370.32,193.39 1370.73,192.52 1371.13,193.67 1371.53,192.68 1371.94,193.33 1372.34,192.47 1372.74,193.51 1373.15,192.33 1373.55,193.61 1373.95,192.48 1374.35,193.70 1374.76,192.49 1375.16,193.51 1375.56,192.42 1375.97,193.46 1376.37,192.55 1376.77,193.54 1377.18,192.55 1377.58,193.68 1377.98,192.42 1378.39,193.52 1378.79,192.65 1379.19,193.46 1379.60,192.53 1380.00,193.00 1380.40,193.51 1380.81,192.43 1381.21,193.61 1381.61,192.25 1382.02,193.42 1382.42,192.42 1382.82,193.44 1383.23,192.17 1383.63,193.30 1384.03,192.32 1384.44,193.45 1384.84,192.43 1385.24,193.23 1385.65,192.08 1386.05,193.39 1386.45,192.23 1386.85,193.08 1387.26,192.05 1387.66,193.27 1388.06,192.05 1388.47,193.36 1388.87,191.99 1389.27,193.11 1389.68,192.24 1390.08,193.02 1390.48,192.07 1390.89,193.07 1391.29,192.16 1391.69,192.92 1392.10,191.96 1392.50,192.50 1394.00,185.00 1395.50,167.00 1397.00,182.50 1398.00,175.00 1399.50,152.00 1401.25,191.25 1402.50,185.00 1402.94,186.48 1403.38,186.42 1403.81,188.51 1404.25,188.75 1404.75,187.77 1405.25,188.25 1405.75,187.50 1407.00,142.50 1408.00,185.00 1409.25,135.50 1410.75,187.50 1411.19,188.28 1411.62,190.62 1412.06,190.82 1412.50,192.50 1414.00,170.00 1415.00,159.50 1416.00,167.50 1417.25,159.50 1418.50,168.00 1418.90,167.48 1419.30,165.48 1419.70,165.13 1420.10,162.96 1420.50,162.50 1420.90,163.79 1421.30,163.43 1421.70,165.14 1422.10,164.99 1422.50,166.25 1422.90,165.93 1423.30,164.13 1423.70,164.26 1424.10,162.33 1424.50,162.00 1424.93,162.95 1425.36,161.96 1425.79,163.22 1426.21,162.64 1426.64,163.63 1427.07,162.89 1427.50,163.75 1427.92,164.52 1428.33,164.23 1428.75,165.00 1429.75,154.50 1431.00,174.50 1432.25,159.50 1434.00,180.00 1435.50,140.00 1437.00,67.00 1438.25,73.75 1439.50,68.00 1439.92,69.46 1440.33,69.65 1440.75,71.25 1442.00,90.00 1443.25,196.25 1444.75,187.50 1446.25,192.50 1446.75,192.30 1447.25,190.28 1447.75,190.00 1449.00,140.00 1450.50,62.50 1452.50,115.00 1454.25,178.75 1455.25,157.50 1456.75,139.50 1458.00,168.75 1458.42,170.46 1458.83,170.58 1459.25,172.00 1461.00,190.00 1462.50,195.00 1462.90,194.32 1463.30,192.39 1463.70,192.44 1464.10,190.41 1464.50,190.00 1466.25,162.00 1467.25,182.50 1468.50,156.25 1469.50,170.00 1471.00,140.00 1472.50,155.50 1474.25,167.00 1476.00,116.25 1477.50,200.00 1477.90,199.20 1478.30,197.12 1478.70,196.67 1479.10,194.65 1479.50,193.75 1479.94,194.73 1480.38,193.84 1480.81,195.14 1481.25,195.00 1482.75,188.75 1484.00,195.00 1486.00,182.00 1487.25,197.00 1487.71,196.18 1488.17,196.80 1488.62,195.66 1489.08,196.32 1489.54,194.79 1490.00,195.00 1490.42,195.55 1490.83,194.24 1491.25,195.14 1491.67,194.03 1492.08,194.64 1492.50,193.49 1492.92,194.67 1493.33,193.45 1493.75,193.75 1494.15,194.56 1494.55,193.42 1494.95,194.63 1495.35,193.80 1495.75,194.50 1497.00,151.75 1498.50,200.00 1498.90,199.43 1499.30,196.99 1499.70,196.93 1500.10,194.59 1500.50,193.75 1500.91,194.38 1501.32,193.49 1501.73,194.65 1502.14,193.99 1502.55,195.24 1502.95,194.26 1503.36,195.55 1503.77,194.69 1504.18,195.65 1504.59,194.98 1505.00,195.60 1505.45,195.47 1505.90,193.87 1506.35,194.47 1506.80,192.99 1507.25,193.00 1507.69,194.36 1508.12,194.48 1508.56,196.46 1509.00,197.00 1510.60,165.00 1511.00,131.90 1512.50,146.25 1513.50,110.00 1514.60,150.00 1515.60,177.50 1516.25,196.25 1517.25,188.00 1518.25,196.50 1518.75,187.50 1519.17,186.00 1519.58,185.77 1520.00,184.40 1521.50,195.00 1521.91,194.64 1522.33,195.63 1522.74,194.55 1523.16,195.41 1523.57,194.61 1523.99,195.42 1524.40,195.00 1525.40,177.50 1526.70,147.60 1527.75,177.50 1528.75,198.00 1529.75,190.00 1530.75,146.00 1531.50,139.00 1532.25,177.50 1532.90,193.75 1534.00,179.40 1534.42,179.11 1534.83,179.96 1535.25,179.75 1536.25,195.60 1536.67,194.41 1537.08,194.81 1537.50,193.75 1537.94,193.55 1538.39,194.69 1538.83,193.94 1539.27,194.88 1539.71,194.01 1540.16,195.19 1540.60,195.00 1541.60,177.50 1542.10,176.81 1542.60,177.74 1543.10,176.90 1543.75,198.00 1544.17,196.38 1544.58,196.38 1545.00,195.00 1545.42,194.58 1545.83,195.66 1546.25,194.64 1546.67,195.82 1547.08,194.77 1547.50,195.88 1547.92,194.72 1548.33,195.67 1548.75,194.81 1549.17,195.70 1549.58,194.78 1550.00,195.82 1550.42,194.77 1550.83,196.01 1551.25,195.04 1551.67,195.94 1552.08,195.02 1552.50,195.60 1552.92,195.38 1553.33,193.72 1553.75,193.75 1554.17,195.16 1554.58,195.34 1555.00,196.90 1555.42,197.39 1555.83,196.41 1556.25,197.40 1556.67,196.29 1557.08,197.29 1557.50,196.15 1557.92,197.08 1558.33,196.15 1558.75,196.92 1559.17,196.16 1559.58,197.15 1560.00,196.03 1560.42,197.00 1560.83,196.04 1561.25,196.89 1561.67,195.87 1562.08,196.79 1562.50,196.25 1562.95,195.07 1563.40,195.09 1563.85,193.57 1564.30,193.65 1564.75,192.50 1565.25,193.39 1565.75,195.59 1566.25,196.25 1566.67,195.75 1567.08,196.58 1567.50,195.37 1567.92,196.57 1568.33,195.23 1568.75,196.46 1569.17,195.38 1569.58,196.09 1570.00,195.60 1570.42,194.99 1570.83,195.61 1571.25,194.75 1571.71,194.39 1572.17,195.63 1572.64,194.91 1573.10,195.60 1573.51,194.92 1573.92,192.52 1574.34,192.26 1574.75,190.60 1575.60,177.50 1576.75,160.00 1577.75,187.50 1578.40,201.90 1579.40,193.75 1579.86,193.57 1580.33,195.13 1580.79,194.58 1581.25,195.60 1581.67,196.08 1582.08,195.44 1582.50,196.57 1582.92,195.40 1583.33,196.69 1583.75,195.87 1584.17,196.63 1584.58,196.02 1585.00,196.50"/></g>
<g clip-path="url(#c1)" fill="none" stroke-width="5.56" stroke-linejoin="round" stroke-linecap="round">
<polyline stroke="#6495ed" points="240.40,436.39 240.80,419.10 241.25,417.29 241.70,418.20 242.30,443.20 242.75,443.50 243.20,442.70 244.05,410.80 244.62,412.01 245.20,417.40 245.70,420.14 246.20,417.70 246.70,420.90 247.25,419.24 247.80,415.20 248.23,413.16 248.67,416.10 249.10,413.70 249.53,412.54 249.97,414.79 250.40,413.40 250.73,412.40 251.05,415.20 251.40,416.29 251.75,413.00 252.30,405.10 252.70,403.49 253.10,406.40 253.50,411.70 253.85,410.68 254.20,407.30 254.50,409.78 254.80,415.60 255.40,410.80 255.75,414.99 256.10,415.20 256.45,411.78 256.80,411.70 257.40,415.20 257.85,418.20 258.30,417.40 258.80,420.06 259.30,426.39 259.80,429.20 260.27,423.88 260.75,420.90 261.23,411.48 261.70,399.90 262.20,400.77 262.70,405.10 263.25,409.64 263.80,410.80 264.35,408.60 264.90,409.90 265.32,412.67 265.75,413.00 266.27,407.58 266.80,404.70 267.25,406.64 267.70,406.00 268.05,414.40 268.40,427.00 268.60,436.49"/>
<polyline stroke="#6495ed" points="289.90,449.33 290.30,437.90 291.20,457.00 293.00,422.60 295.25,444.60 298.00,369.70 299.75,450.25 300.20,449.99 300.65,452.13 301.10,451.56 301.55,453.71 302.00,453.60 304.70,394.50 304.75,397.13"/>
<polyline stroke="#6495ed" points="423.00,451.58 423.50,447.00 424.50,454.50 424.90,453.32 425.30,454.92 425.70,452.70 426.10,454.24 426.50,453.25 428.50,326.25 431.25,392.00 432.25,397.00 433.50,446.50 435.00,410.75 436.50,454.50 438.00,440.75 439.50,458.25 439.90,457.01 440.30,458.65 440.70,456.49 441.10,458.23 441.50,457.00 444.00,424.50 444.38,429.29 444.75,438.25 445.17,433.74 445.58,422.67 446.00,418.25 446.42,424.68 446.83,425.72 447.25,432.00 447.75,421.43 448.25,407.00 448.67,409.12 449.08,416.90 449.50,419.50 451.25,371.50 453.00,415.75 453.50,414.81 454.00,417.00 454.73,445.29"/>
<polyline stroke="#6495ed" points="474.65,435.81 475.25,416.25 475.90,435.75"/>
<polyline stroke="#6495ed" points="483.60,448.43 485.25,389.50 486.75,454.50 488.00,427.00 489.50,375.00 491.50,428.25 492.00,424.31 492.50,424.50 494.00,455.75 496.50,448.25 498.50,362.50 500.50,424.50 500.88,413.64 501.25,399.50 501.29,402.38"/>
<polyline stroke="#6495ed" points="527.50,417.00 527.50,417.00 527.92,419.55 528.33,427.73 528.75,430.75 529.17,427.39 529.58,429.57 530.00,425.17 530.42,427.38 530.83,423.19 531.25,423.75 531.67,427.37 532.08,426.35 532.50,429.50 532.92,430.75 533.33,426.40 533.75,428.43 534.17,425.04 534.58,426.76 535.00,424.50 535.42,423.08 535.83,426.86 536.25,423.63 536.67,427.24 537.08,424.37 537.50,425.75 537.92,428.12 538.33,425.80 538.75,428.25 539.19,427.38 539.62,419.92 540.06,420.74 540.50,415.75 541.00,421.37 541.50,430.60 542.00,435.75 542.42,428.82 542.83,427.09 543.25,420.75 545.00,442.00 548.00,329.00 549.25,337.00 550.50,330.00 552.00,339.50 553.00,377.00 554.25,458.25 555.75,449.50 556.19,449.60 556.62,452.15 557.06,451.81 557.50,453.25 558.00,454.76 558.50,453.10 559.00,454.50 561.25,319.00 563.75,384.50 565.50,438.25 567.50,393.25 568.75,417.00 569.12,414.80 569.50,410.00 572.00,457.50 572.43,456.56 572.86,458.03 573.29,456.56 573.71,458.04 574.14,456.47 574.57,457.77 575.00,457.00 576.25,424.50 577.50,447.00 578.25,422.00 578.67,419.64 579.08,422.21 579.50,419.50 579.94,413.89 580.38,412.29 580.81,404.79 581.25,402.50 581.67,407.54 582.08,407.44 582.50,413.25 582.92,413.91 583.33,409.13 583.75,410.00 584.17,419.20 584.58,423.42 585.00,433.25 586.50,386.50 587.62,441.38"/>
<polyline stroke="#6495ed" points="607.27,436.43 608.00,415.75 608.67,436.63"/>
<polyline stroke="#6495ed" points="621.13,435.45 622.25,368.25 622.75,370.43 623.25,370.75 624.50,361.25 626.00,419.50 627.25,460.00 627.50,458.25"/>
<polyline stroke="#6495ed" points="639.00,451.49 639.10,451.66 639.50,449.50 641.00,444.50 642.50,363.25 643.75,407.00 644.25,403.63 644.75,403.25 645.75,444.50 647.00,453.25 648.00,442.00 648.25,420.12"/>
<polyline stroke="#6495ed" points="841.74,419.74 842.25,462.00 843.25,452.00 843.69,452.06 844.12,454.15 844.56,453.74 845.00,455.00 845.50,454.70 846.00,451.97 846.50,452.00 848.50,435.00 850.25,455.00 850.70,455.64 851.15,453.95 851.60,455.30 852.05,453.59 852.50,454.00 852.92,454.45 853.33,452.47 853.75,454.07 854.17,451.95 854.58,453.18 855.00,452.00"/>
<polyline stroke="#6495ed" points="873.20,450.57 874.00,447.50 874.50,448.66 875.00,446.92 875.50,448.25 877.00,455.00 877.42,455.70 877.83,453.83 878.25,455.00 878.67,453.04 879.08,454.38 879.50,453.25 879.94,452.84 880.38,454.54 880.81,453.24 881.25,454.50 882.50,409.50 884.00,455.00 884.50,454.40 885.00,451.53 885.50,450.75 885.90,451.90 886.30,451.06 886.70,452.85 887.10,451.94 887.50,453.25 887.92,453.82 888.33,452.72 888.75,453.79 889.17,452.69 889.58,454.17 890.00,452.69 890.42,454.02 890.83,452.29 891.25,453.25 892.50,448.25 892.90,449.19 893.30,447.96 893.70,449.72 894.10,447.83 894.50,449.00 894.94,450.90 895.38,451.10 895.81,453.93 896.25,454.50"/>
<polyline stroke="#6495ed" points="937.33,437.90 938.25,390.75 939.50,442.00 939.92,442.17 940.33,444.73 940.75,444.50 942.00,392.50 942.75,397.00 944.00,451.50 945.25,388.25 946.25,425.75 947.25,396.50 947.30,399.27"/>
<polyline stroke="#6495ed" points="1044.25,416.50 1044.25,416.50 1044.75,419.59 1045.25,427.41 1045.75,430.00 1046.20,426.86 1046.65,428.84 1047.10,424.69 1047.55,426.20 1048.00,423.75 1048.50,423.33 1049.00,428.60 1049.50,429.00 1049.92,426.68 1050.33,428.97 1050.75,424.68 1051.17,428.11 1051.58,423.47 1052.00,424.50 1052.42,426.52 1052.83,423.92 1053.25,427.54 1053.67,424.52 1054.08,427.45 1054.50,426.25 1054.94,424.62 1055.38,427.95 1055.81,423.99 1056.25,425.75 1056.67,423.89 1057.08,416.91 1057.50,415.75 1057.92,424.65 1058.33,428.02 1058.75,435.75 1059.25,430.09 1059.75,420.75 1061.50,441.50 1064.75,329.00 1066.00,335.75 1067.25,329.00 1067.67,329.22 1068.08,331.71 1068.50,332.00 1069.50,342.00 1071.00,455.00 1072.50,449.50 1074.00,455.00 1074.50,453.22 1075.00,453.69 1075.50,452.00 1078.00,319.00 1080.50,377.00 1082.50,450.75 1084.25,412.00 1086.00,449.50 1087.50,438.25 1089.50,457.00 1089.90,455.10 1090.30,455.86 1090.70,452.92 1091.10,454.09 1091.50,452.00 1093.50,424.50 1094.50,445.75 1096.00,417.50 1096.42,418.38 1096.83,425.37 1097.25,427.00 1097.75,415.75 1098.25,410.52 1098.75,399.50 1099.25,402.58 1099.75,411.80 1100.25,414.50 1100.75,418.80 1101.25,426.95 1101.75,430.75 1103.50,377.50 1105.00,456.50 1105.42,455.22 1105.83,456.31 1106.25,454.25 1106.67,455.43 1107.08,453.17 1107.50,453.25 1107.92,454.26 1108.33,453.25 1108.75,454.86 1109.17,453.47 1109.58,455.25 1110.00,455.00 1111.75,418.25 1112.71,441.45"/>
<polyline stroke="#6495ed" points="1124.09,436.59 1124.75,413.75 1125.46,436.35"/>
<polyline stroke="#6495ed" points="1137.91,436.50 1138.75,394.50 1140.00,409.50 1141.50,367.00 1143.00,422.00 1144.00,459.00 1144.30,457.10"/>
<polyline stroke="#6495ed" points="1157.90,450.60 1159.00,400.00 1160.25,452.00 1161.50,405.00 1163.00,457.50 1164.25,449.50 1164.67,451.26 1165.08,450.58 1165.50,452.00 1167.25,391.50 1168.50,443.25 1170.00,412.00 1171.50,346.50 1173.00,427.00 1174.50,327.00 1175.09,371.25"/>
<polyline stroke="#6495ed" points="1243.20,452.87 1243.50,459.00 1245.00,453.25"/>
<polyline stroke="#6495ed" points="1255.79,436.43 1256.75,417.50 1257.47,436.63"/>
<polyline stroke="#6495ed" points="1280.50,445.10 1280.75,442.00 1281.00,445.12"/>
<polyline stroke="#6495ed" points="1295.20,448.50 1295.50,447.00 1296.75,454.50 1298.25,432.00 1298.75,433.49 1299.25,430.75 1302.50,380.00 1304.50,422.00 1306.50,452.00 1307.00,452.32 1307.50,455.16 1308.00,455.75 1308.40,454.35 1308.80,454.76 1309.20,452.68 1309.60,453.40 1310.00,452.00 1310.42,451.83 1310.83,453.65 1311.25,452.93 1311.67,454.79 1312.08,453.84 1312.50,455.00"/>
<polyline stroke="#6495ed" points="1331.60,450.23 1332.00,448.50 1332.40,450.63"/>
<polyline stroke="#6495ed" points="1443.60,456.21 1444.75,449.50 1446.25,454.50 1446.75,452.58 1447.25,453.34 1447.75,452.00 1449.00,402.00 1450.50,324.50 1452.50,377.00 1454.25,440.75 1455.25,419.50 1455.75,411.50 1456.25,409.04 1456.75,401.50 1457.17,410.15 1457.58,422.24 1458.00,430.75 1458.42,430.58 1458.83,434.88 1459.25,434.00 1461.00,452.00 1462.50,457.00 1462.90,455.38 1463.30,455.51 1463.70,453.37 1464.10,453.98 1464.50,452.00 1466.25,424.00 1467.25,444.50 1468.50,418.25 1469.00,423.46 1469.50,432.00 1470.00,423.86 1470.50,410.38 1471.00,402.00 1471.50,408.43 1472.00,411.28 1472.50,417.50 1472.94,421.79 1473.38,422.16 1473.81,427.49 1474.25,429.00 1476.00,378.25 1477.16,443.02"/>
<polyline stroke="#6495ed" points="1496.33,436.66 1497.00,413.75 1497.71,436.59"/>
<polyline stroke="#6495ed" points="1510.11,436.80 1510.60,427.00 1511.00,393.90 1512.50,408.25 1513.50,372.00 1514.60,412.00 1515.10,427.60 1515.60,439.50 1516.25,458.25 1517.25,450.00 1518.25,458.50 1518.75,449.50 1519.17,447.38 1519.58,448.10 1520.00,446.40 1521.50,457.00 1521.91,456.24 1522.33,457.55 1522.74,456.02 1523.16,457.64 1523.57,456.00 1523.99,457.98 1524.40,457.00 1525.40,439.50 1525.83,428.18 1526.27,421.74 1526.70,409.60 1527.22,422.88 1527.75,439.50 1528.75,460.00 1529.75,452.00 1530.75,408.00 1531.12,406.07 1531.50,401.00 1531.88,418.51 1532.25,439.50 1532.90,455.75 1534.00,441.40 1534.42,442.58 1534.83,440.84 1535.25,441.75 1536.25,457.60 1536.67,457.77 1537.08,455.70 1537.50,455.75 1537.94,456.93 1538.39,455.31 1538.83,456.99 1539.27,455.85 1539.50,456.58"/>
<polyline stroke="#6495ed" points="1576.00,434.68 1576.17,432.57 1576.75,422.00 1577.20,434.38"/>
<polyline stroke="#6495ed" points="1581.60,458.24 1581.67,458.36 1582.08,456.99 1582.50,458.69 1582.92,457.48 1583.33,459.12 1583.75,457.38 1584.17,459.08 1584.58,457.45 1585.00,458.50"/>
<polyline stroke="#ff0000" points="69.50,487.30 69.78,477.18"/>
<polyline stroke="#008000" points="69.78,477.18 70.20,462.00 70.80,455.60 71.20,455.33 71.60,456.60 72.10,458.33 72.60,458.40 73.00,457.35 73.40,459.18 73.80,457.60 74.20,459.25 74.60,457.79 75.00,459.20 75.40,457.52 75.80,459.37 76.20,457.85 76.60,459.08 77.00,457.85 77.40,459.38 77.80,457.48 78.20,458.92 78.60,457.31 79.00,459.47 79.40,457.51 79.80,459.26 80.20,457.81 80.60,458.90 81.01,457.58 81.41,458.93 81.81,457.78 82.21,459.04 82.61,457.88 83.01,459.17 83.41,457.63 83.81,459.40 84.21,457.58 84.61,459.28 85.01,457.60 85.41,459.29 85.81,457.62 86.21,459.06 86.61,457.29 87.01,459.49 87.41,457.39 87.81,459.31 88.21,457.70 88.61,459.02 89.01,457.72 89.41,458.93 89.81,457.43 90.21,459.13 90.61,457.38 91.01,459.12 91.41,457.31 91.81,459.40 92.21,457.89 92.61,459.01 93.01,457.34 93.41,459.17 93.81,457.30 94.21,459.12 94.61,457.85 95.01,459.26 95.41,457.42 95.81,459.04 96.21,457.84 96.61,459.08 97.01,457.31 97.41,459.34 97.82,457.82 98.22,459.03 98.62,457.83 99.02,458.92 99.42,457.41 99.82,458.99 100.22,457.55 100.62,459.15 101.02,457.77 101.42,459.32 101.82,457.81 102.22,459.27 102.62,457.82 103.02,459.13 103.42,457.76 103.82,459.04 104.22,457.30 104.62,459.36 105.02,457.70 105.42,459.41 105.82,457.76 106.22,459.11 106.62,457.37 107.02,459.26 107.42,457.82 107.82,459.47 108.22,457.75 108.62,459.03 109.02,457.42 109.42,459.07 109.82,457.70 110.22,458.92 110.62,457.83 111.02,459.22 111.42,457.73 111.82,459.24 112.22,457.66 112.62,459.15 113.02,457.30 113.42,459.16 113.82,457.53 114.22,459.39 114.63,457.77 115.03,458.96 115.43,457.33 115.83,459.36 116.23,457.73 116.63,458.98 117.03,457.43 117.43,459.44 117.83,457.76 118.23,459.44 118.63,457.34 119.03,459.23 119.43,457.62 119.83,458.93 120.23,457.85 120.63,459.45 121.03,457.73 121.43,459.29 121.83,457.72 122.23,459.36 122.63,457.51 123.03,459.04 123.43,457.77 123.83,459.30 124.23,457.83 124.63,459.00 125.03,457.54 125.43,459.38 125.83,457.50 126.23,459.03 126.63,457.32 127.03,458.99 127.43,457.86 127.83,459.02 128.23,457.60 128.63,458.90 129.03,457.76 129.43,459.08 129.83,457.52 130.23,458.94 130.63,457.65 131.04,459.40 131.44,457.28 131.84,459.26 132.24,457.45 132.64,459.21 133.04,457.78 133.44,458.88 133.84,457.86 134.24,459.41 134.64,457.44 135.04,459.44 135.44,457.85 135.84,459.24 136.24,457.58 136.64,459.30 137.04,457.67 137.44,459.46 137.84,457.82 138.24,459.19 138.64,457.42 139.04,459.40 139.44,457.42 139.84,459.28 140.24,457.38 140.64,459.41 141.04,457.65 141.44,459.27 141.84,457.32 142.24,459.38 142.64,457.61 143.04,459.33 143.44,457.34 143.84,459.20 144.24,457.48 144.64,459.08 145.04,457.51 145.44,459.22 145.84,457.81 146.24,459.24 146.64,457.26 147.04,459.38 147.44,457.42 147.85,459.08 148.25,457.41 148.65,459.20 149.05,457.59 149.45,459.36 149.85,457.81 150.25,459.30 150.65,457.84 151.05,459.21 151.45,457.57 151.85,458.99 152.25,457.43 152.65,459.15 153.05,457.49 153.45,459.40 153.85,457.70 154.25,458.85 154.65,457.67 155.05,459.26 155.45,457.73 155.85,458.95 156.25,457.31 156.65,459.24 157.05,457.59 157.45,459.38 157.85,457.66 158.25,459.25 158.65,457.73 159.05,459.10 159.45,457.37 159.85,459.40 160.25,457.32 160.65,459.07 161.05,457.50 161.45,459.03 161.85,457.77 162.25,459.14 162.65,457.34 163.05,459.35 163.45,457.42 163.85,459.42 164.25,457.68 164.66,458.94 165.06,457.58 165.46,459.01 165.86,457.72 166.26,459.09 166.66,457.47 167.06,459.14 167.46,457.66 167.86,459.35 168.26,457.25 168.66,459.11 169.06,457.80 169.46,458.86 169.86,457.32 170.26,458.86 170.66,457.42 171.06,459.18 171.46,457.66 171.86,459.31 172.26,457.83 172.66,458.92 173.06,457.57 173.46,458.85 173.86,457.34 174.26,458.98 174.66,457.76 175.06,458.86 175.46,457.46 175.86,459.10 176.26,457.46 176.66,459.23 177.06,457.35 177.46,459.41 177.86,457.43 178.26,458.95 178.66,457.55 179.06,458.94 179.46,457.83 179.86,459.12 180.26,457.41 180.66,458.94 181.06,457.68 181.47,459.04 181.87,457.42 182.27,459.14 182.67,457.47 183.07,459.29 183.47,457.60 183.87,459.31 184.27,457.29 184.67,458.88 185.07,457.27 185.47,459.26 185.87,457.76 186.27,459.10 186.67,457.46 187.07,459.38 187.47,457.61 187.87,459.17 188.27,457.30 188.67,459.31 189.07,457.26 189.47,459.11 189.87,457.44 190.27,458.95 190.67,457.40 191.07,459.32 191.47,457.45 191.87,459.26 192.27,457.70 192.67,459.37 193.07,457.24 193.47,459.41 193.87,457.51 194.27,459.30 194.67,457.64 195.07,459.37 195.47,457.31 195.87,459.03 196.27,457.78 196.67,459.09 197.07,457.50 197.47,459.28 197.88,457.54 198.28,458.84 198.68,457.34 199.08,458.86 199.48,457.35 199.88,458.92 200.28,457.63 200.68,459.29 201.08,457.74 201.48,458.91 201.88,457.52 202.28,459.26 202.68,457.32 203.08,459.23 203.48,457.25 203.88,459.11 204.28,457.25 204.68,458.87 205.08,457.69 205.48,459.13 205.88,457.65 206.28,459.26 206.68,457.44 207.08,459.13 207.48,457.31 207.88,459.15 208.28,457.64 208.68,459.04 209.08,457.31 209.48,459.36 209.88,457.70 210.28,459.33 210.68,457.24 211.08,459.13 211.48,457.48 211.88,458.93 212.28,457.50 212.68,459.12 213.08,457.45 213.48,458.83 213.88,457.23 214.28,459.12 214.69,457.58 215.09,459.29 215.49,457.48 215.89,459.11 216.29,457.40 216.69,458.85 217.09,457.49 217.49,459.06 217.89,457.24 218.29,459.37 218.69,457.65 219.09,459.09 219.49,457.74 219.89,459.07 220.29,457.32 220.69,459.35 221.09,457.53 221.49,459.00 221.89,457.70 222.29,459.18 222.69,457.26 223.09,458.88 223.49,457.34 223.89,458.82 224.29,457.70 224.69,458.94 225.09,457.40 225.49,459.00 225.89,457.60 226.29,459.18 226.69,457.75 227.09,459.24 227.49,457.74 227.89,459.11 228.29,457.66 228.69,458.92 229.09,457.49 229.49,459.07 229.89,457.58 230.29,459.05 230.69,457.49 231.09,458.90 231.50,457.69 231.90,459.18 232.30,457.42 232.70,459.12 233.10,457.29 233.50,459.17 233.90,457.29 234.30,458.94 234.70,457.36 235.10,459.29 235.50,457.26 235.90,458.99 236.30,457.62 236.70,459.35 237.10,457.67 237.50,459.40 237.90,457.27 238.30,458.88 238.70,457.66 239.10,459.23 239.50,458.30 239.90,458.00 240.40,436.39"/>
<polyline stroke="#008000" points="268.60,436.49 269.10,460.20 270.10,454.60 270.55,456.12 271.00,454.39 271.45,456.43 271.90,456.30 272.32,456.09 272.75,458.02 273.18,456.50 273.60,457.60 274.00,458.57 274.40,456.92 274.80,458.40 275.20,456.82 275.60,458.39 276.00,456.79 276.40,458.16 276.80,456.74 277.20,458.67 277.60,457.07 278.00,458.45 278.40,456.75 278.80,458.44 279.20,457.09 279.60,458.31 280.00,456.91 280.40,458.23 280.80,456.70 281.20,458.72 281.60,456.83 282.00,458.77 282.40,456.89 282.80,458.51 283.20,456.92 283.60,458.59 284.00,456.71 284.40,458.78 284.80,457.16 285.20,458.86 285.60,456.88 286.00,458.80 286.40,456.85 286.80,458.59 287.20,456.82 287.60,458.89 288.00,456.95 288.40,458.84 288.80,456.93 289.20,458.63 289.60,457.90 289.90,449.33"/>
<polyline stroke="#ff0000" points="304.75,397.13 306.50,489.00 307.60,476.10 308.18,477.29 308.75,478.80 309.20,479.27 309.65,479.00 310.10,479.80 310.55,479.56 311.00,480.00 311.40,480.34 311.80,479.71 312.20,480.22 312.60,479.72 313.01,480.27 313.41,479.74 313.81,480.23 314.21,479.65 314.61,480.28 315.01,479.71 315.41,480.30 315.81,479.65 316.21,480.16 316.61,479.72 317.02,480.30 317.42,479.79 317.82,480.23 318.22,479.83 318.62,480.20 319.02,479.77 319.42,480.18 319.82,479.79 320.22,480.33 320.62,479.74 321.03,480.26 321.43,479.66 321.83,480.27 322.23,479.65 322.63,480.28 323.03,479.69 323.43,480.17 323.83,479.73 324.23,480.30 324.64,479.83 325.04,480.34 325.44,479.81 325.84,480.25 326.24,479.81 326.64,480.25 327.04,479.72 327.44,480.17 327.84,479.66 328.24,480.24 328.65,479.74 329.05,480.27 329.45,479.77 329.85,480.21 330.25,479.72 330.65,480.27 331.05,479.79 331.45,480.30 331.85,479.79 332.25,480.16 332.66,479.80 333.06,480.17 333.46,479.81 333.86,480.30 334.26,479.77 334.66,480.33 335.06,479.70 335.46,480.17 335.86,479.65 336.26,480.34 336.67,479.83 337.07,480.33 337.47,479.76 337.87,480.25 338.27,479.66 338.67,480.20 339.07,479.74 339.47,480.34 339.87,479.70 340.28,480.25 340.68,479.65 341.08,480.31 341.48,479.73 341.88,480.18 342.28,479.72 342.68,480.25 343.08,479.80 343.48,480.17 343.88,479.74 344.29,480.18 344.69,479.76 345.09,480.29 345.49,479.75 345.89,480.21 346.29,479.73 346.69,480.24 347.09,479.69 347.49,480.26 347.89,479.65 348.30,480.34 348.70,479.70 349.10,480.20 349.50,479.82 349.90,480.33 350.30,479.69 350.70,480.28 351.10,479.77 351.50,480.21 351.91,479.71 352.31,480.27 352.71,479.73 353.11,480.28 353.51,479.70 353.91,480.19 354.31,479.79 354.71,480.35 355.11,479.67 355.51,480.33 355.92,479.83 356.32,480.17 356.72,479.79 357.12,480.24 357.52,479.72 357.92,480.18 358.32,479.74 358.72,480.17 359.12,479.83 359.52,480.29 359.93,479.74 360.33,480.28 360.73,479.77 361.13,480.25 361.53,479.80 361.93,480.22 362.33,479.70 362.73,480.32 363.13,479.83 363.54,480.18 363.94,479.69 364.34,480.28 364.74,479.69 365.14,480.20 365.54,479.76 365.94,480.21 366.34,479.69 366.74,480.23 367.14,479.72 367.55,480.35 367.95,479.78 368.35,480.26 368.75,479.70 369.15,480.33 369.55,479.76 369.95,480.23 370.35,479.82 370.75,480.33 371.15,479.83 371.56,480.17 371.96,479.73 372.36,480.25 372.76,479.71 373.16,480.22 373.56,479.69 373.96,480.17 374.36,479.80 374.76,480.28 375.16,479.83 375.57,480.22 375.97,479.70 376.37,480.29 376.77,479.79 377.17,480.19 377.57,479.77 377.97,480.30 378.37,479.77 378.77,480.18 379.18,479.71 379.58,480.27 379.98,479.67 380.38,480.34 380.78,479.67 381.18,480.24 381.58,479.69 381.98,480.22 382.38,479.78 382.78,480.23 383.19,479.66 383.59,480.33 383.99,479.79 384.39,480.23 384.79,479.77 385.19,480.23 385.59,479.77 385.99,480.23 386.39,479.80 386.79,480.27 387.20,479.69 387.60,480.26 388.00,479.68 388.40,480.27 388.70,480.07"/>
<polyline stroke="#ffa500" points="388.70,480.07 388.80,480.00 390.50,417.00 391.00,420.32 391.50,428.16 392.00,430.75 392.42,429.23 392.83,433.39 393.25,431.56 393.67,434.94 394.08,432.15 394.50,434.50 394.93,435.90 395.36,431.53 395.79,435.29 396.21,431.02 396.64,433.83 397.07,430.63 397.50,432.00 398.00,430.95 398.50,424.69 399.00,422.75 399.50,426.14 400.00,425.28 400.50,429.50 401.00,430.01 401.50,425.02 402.00,424.50 402.43,426.52 402.86,423.64 403.29,427.01 403.71,423.36 404.14,426.74 404.57,424.26 405.00,425.75 405.50,428.17 406.00,424.89 406.50,427.00 407.00,425.50 407.50,418.47 408.00,416.50 408.50,424.80 409.00,427.91 409.50,437.00 410.00,431.39 410.50,422.00 412.50,442.50 415.00,330.00 416.25,339.50 417.50,330.00 417.92,329.21 418.33,330.82 418.75,330.00 419.50,339.50 420.75,352.00 422.00,460.75 423.00,451.58"/>
<polyline stroke="#008000" points="454.73,445.29 455.00,455.75 455.42,456.54 455.83,455.22 456.25,457.47 456.67,455.86 457.08,457.39 457.50,457.00 458.50,452.00 459.50,458.25 460.50,452.00 461.50,457.00 462.00,455.96 462.50,456.92 463.00,455.75 464.25,441.50 465.50,459.00 465.91,458.26 466.32,459.95 466.73,458.26 467.14,459.41 467.55,458.09 467.95,459.48 468.36,457.56 468.77,459.06 469.18,457.85 469.59,459.09 470.00,458.25 470.43,456.87 470.86,458.22 471.29,456.13 471.71,456.67 472.14,454.96 472.57,455.66 473.00,454.50 473.50,455.11 474.00,457.00 474.65,435.81"/>
<polyline stroke="#008000" points="475.90,435.75 476.75,461.25 478.25,455.75 478.69,457.30 479.12,456.15 479.56,458.26 480.00,458.25 480.40,457.14 480.80,457.92 481.20,456.15 481.60,457.20 482.00,455.75 482.50,453.82 483.00,454.08 483.50,452.00 483.60,448.43"/>
<polyline stroke="#ff0000" points="501.29,402.38 502.50,489.50 503.50,475.75 504.50,480.75 504.94,480.30 505.38,480.60 505.81,479.70 506.25,479.80 506.65,480.03 507.05,479.55 507.45,480.17 507.85,479.58 508.25,480.04 508.65,479.68 509.05,480.20 509.45,479.55 509.85,480.10 510.25,479.62 510.65,480.14 511.05,479.69 511.45,480.25 511.85,479.63 512.25,480.12 512.65,479.77 513.05,480.18 513.45,479.71 513.85,480.26 514.25,479.67 514.65,480.24 515.05,479.79 515.45,480.17 515.85,479.77 516.25,480.00 516.65,480.21 517.05,479.68 517.46,480.26 517.86,479.72 518.26,480.35 518.66,479.79 519.06,480.26 519.47,479.81 519.87,480.31 520.27,479.84 520.67,480.32 521.08,479.68 521.48,480.32 521.88,479.83 522.28,480.21 522.68,479.70 523.09,480.18 523.49,479.75 523.89,480.25 524.29,479.66 524.69,480.27 525.10,479.68 525.50,480.22 525.90,480.00 527.50,417.00"/>
<polyline stroke="#008000" points="587.62,441.38 588.00,460.00 588.40,459.70 588.80,457.72 589.20,458.00 589.60,455.69 590.00,455.75 590.42,456.88 590.83,455.56 591.25,457.11 591.67,455.58 592.08,457.65 592.50,457.00 594.00,451.50 595.00,457.00 596.75,445.75 598.00,458.25 598.41,457.54 598.81,458.57 599.22,457.19 599.62,458.20 600.03,456.73 600.44,457.85 600.84,456.10 601.25,457.00 601.66,457.28 602.06,455.26 602.47,456.48 602.88,454.17 603.28,455.65 603.69,453.46 604.09,454.41 604.50,453.25 604.90,453.51 605.30,455.75 605.70,455.51 606.10,458.17 606.50,458.25 607.27,436.43"/>
<polyline stroke="#008000" points="608.67,436.63 609.50,462.50 611.25,456.50 611.67,455.61 612.08,457.86 612.50,456.19 612.92,458.14 613.33,456.97 613.75,458.36 614.17,457.16 614.58,458.94 615.00,458.25 615.41,457.69 615.82,458.97 616.23,457.45 616.64,459.22 617.05,457.26 617.46,459.11 617.88,457.66 618.29,459.21 618.70,457.21 619.11,459.08 619.52,457.54 619.93,459.05 620.34,457.67 620.75,458.25 621.13,435.45"/>
<polyline stroke="#008000" points="627.50,458.25 628.75,449.50 629.50,457.00 630.75,443.25 632.00,460.75 632.44,459.03 632.88,460.31 633.31,457.95 633.75,458.25 634.19,458.63 634.62,456.39 635.06,457.44 635.50,455.75 635.90,454.73 636.30,456.06 636.70,454.75 637.10,455.79 637.50,455.00 637.90,453.06 638.30,453.72 638.70,451.01 639.00,451.49"/>
<polyline stroke="#0000ff" points="648.25,420.12 649.50,310.75 650.50,323.25 651.50,310.75 652.50,320.75 652.92,321.11 653.33,319.35 653.75,319.50 655.00,314.50 655.40,315.58 655.80,313.92 656.20,315.54 656.60,313.68 657.00,314.50 657.44,316.27 657.88,315.54 658.31,317.97 658.75,318.25 659.17,317.29 659.58,319.51 660.00,317.51 660.42,319.44 660.83,318.10 661.25,318.75 661.67,319.83 662.08,318.25 662.50,320.04 662.92,318.44 663.33,320.01 663.75,318.25 664.17,319.94 664.58,318.59 665.00,319.50 665.42,319.87 665.83,318.65 666.25,319.00 667.50,315.00 667.92,315.85 668.33,314.41 668.75,316.81 669.17,315.11 669.58,316.93 670.00,316.50 670.40,315.30 670.80,316.84 671.20,314.87 671.60,316.15 672.00,315.00 673.00,311.50 673.40,310.72 673.80,312.40 674.20,311.48 674.60,313.08 675.00,312.50 675.42,311.88 675.83,313.15 676.25,311.54 676.67,312.93 677.08,311.48 677.50,312.90 677.92,311.37 678.33,312.86 678.75,311.24 679.17,312.60 679.58,311.14 680.00,312.00 680.42,312.54 680.83,310.84 681.25,312.73 681.67,311.05 682.08,312.54 682.50,310.88 682.92,312.62 683.33,310.71 683.75,312.57 684.17,310.79 684.58,312.64 685.00,311.50 685.42,310.25 685.83,312.01 686.25,310.01 686.67,311.26 687.08,309.41 687.50,310.00 687.92,311.38 688.33,309.85 688.75,311.81 689.17,310.58 689.58,312.71 690.00,312.00 690.42,311.31 690.83,312.53 691.25,311.07 691.67,313.04 692.08,311.06 692.50,312.86 692.92,311.05 693.33,312.68 693.75,311.15 694.17,312.54 694.58,311.43 695.00,312.00 695.40,312.75 695.80,311.16 696.20,312.68 696.60,311.39 697.00,312.82 697.40,311.07 697.80,312.50 698.20,311.16 698.60,312.55 699.00,311.16 699.40,312.32 699.80,310.71 700.20,312.82 700.60,310.82 701.00,312.72 701.40,310.93 701.80,312.64 702.20,311.01 702.60,312.57 703.00,310.76 703.40,312.62 703.80,311.01 704.20,312.51 704.60,310.95 705.00,311.50 705.40,312.36 705.80,310.51 706.20,312.12 706.60,311.02 707.00,312.38 707.40,311.05 707.80,312.31 708.20,310.78 708.60,312.85 709.00,311.16 709.40,312.65 709.80,311.13 710.20,312.54 710.60,311.55 711.00,313.14 711.40,311.46 711.80,312.98 712.20,311.16 712.60,313.35 713.00,311.52 713.40,312.96 713.80,311.71 714.20,313.47 714.60,311.42 715.00,312.50 715.41,313.10 715.81,311.47 716.22,313.17 716.62,311.67 717.03,313.03 717.43,311.39 717.84,313.50 718.24,311.77 718.65,313.26 719.05,311.75 719.46,313.38 719.86,311.81 720.27,312.88 720.68,311.38 721.08,312.98 721.49,311.24 721.89,313.29 722.30,311.33 722.70,312.82 723.11,311.31 723.51,313.28 723.92,311.44 724.32,312.73 724.73,311.55 725.14,312.84 725.54,311.22 725.95,312.75 726.35,311.52 726.76,312.75 727.16,311.20 727.57,313.05 727.97,311.35 728.38,312.95 728.78,311.01 729.19,312.88 729.59,311.38 730.00,312.00 730.40,312.18 730.80,309.94 731.20,311.40 731.60,309.34 732.00,309.50 732.44,310.07 732.88,308.33 733.31,309.65 733.75,308.25 734.17,307.91 734.58,309.90 735.00,308.68 735.42,310.44 735.83,309.48 736.25,310.75 736.67,311.61 737.08,310.49 737.50,312.31 737.92,310.98 738.33,312.39 738.75,310.96 739.17,312.75 739.58,311.64 740.00,312.50 740.40,313.31 740.80,311.85 741.20,313.48 741.60,311.33 742.00,312.92 742.40,311.61 742.80,313.31 743.20,311.61 743.60,313.38 744.00,311.50 744.40,312.88 744.80,311.43 745.20,313.13 745.60,311.51 746.00,313.09 746.40,311.21 746.80,312.97 747.20,311.34 747.60,313.13 748.00,311.19 748.40,312.89 748.80,310.99 749.20,312.64 749.60,311.05 750.00,312.00 750.40,312.57 750.80,311.10 751.20,312.58 751.60,311.16 752.00,312.86 752.40,310.91 752.80,312.83 753.20,311.20 753.60,312.61 754.00,311.17 754.40,312.63 754.80,310.96 755.20,312.26 755.60,310.86 756.00,312.63 756.40,310.84 756.80,312.68 757.20,311.04 757.60,312.21 758.00,311.09 758.40,312.38 758.80,310.80 759.20,312.30 759.60,310.87 760.00,311.50 760.42,312.59 760.83,311.18 761.25,312.88 761.67,311.11 762.08,312.88 762.50,311.19 762.92,312.92 763.33,311.81 763.75,312.50 764.17,313.02 764.58,311.65 765.00,312.69 765.42,310.96 765.83,312.48 766.25,311.50 766.66,310.83 767.07,312.33 767.47,310.92 767.88,312.45 768.29,310.85 768.70,312.08 769.10,310.83 769.51,312.33 769.92,310.40 770.33,312.36 770.73,310.85 771.14,312.11 771.55,310.64 771.96,311.97 772.36,310.25 772.77,311.85 773.18,310.52 773.59,312.26 773.99,310.20 774.40,311.87 774.81,310.50 775.22,312.21 775.62,310.73 776.03,311.88 776.44,310.19 776.85,311.80 777.26,310.47 777.66,311.87 778.07,310.43 778.48,311.72 778.89,310.65 779.29,312.25 779.70,310.18 780.11,312.07 780.52,310.49 780.92,311.76 781.33,310.27 781.74,311.73 782.15,310.30 782.55,312.12 782.96,310.34 783.37,311.74 783.78,309.94 784.18,311.89 784.59,310.49 785.00,311.00 785.40,311.73 785.81,310.10 786.21,311.52 786.61,310.28 787.02,311.90 787.42,309.96 787.82,311.82 788.23,309.94 788.63,311.74 789.03,310.23 789.44,311.96 789.84,310.23 790.24,311.92 790.65,310.32 791.05,311.64 791.45,310.33 791.85,311.76 792.26,310.33 792.66,311.54 793.06,310.29 793.47,311.69 793.87,310.23 794.27,311.67 794.68,309.81 795.08,311.81 795.48,309.88 795.89,311.51 796.29,310.16 796.69,311.42 797.10,309.97 797.50,311.59 797.90,310.21 798.31,311.37 798.71,310.26 799.11,311.51 799.52,310.12 799.92,311.90 800.32,309.92 800.73,311.50 801.13,310.13 801.53,311.42 801.94,309.77 802.34,311.54 802.74,309.86 803.15,311.75 803.55,309.77 803.95,311.32 804.35,310.12 804.76,311.53 805.16,310.25 805.56,311.82 805.97,310.10 806.37,311.75 806.77,309.97 807.18,311.31 807.58,310.04 807.98,311.41 808.39,310.25 808.79,311.35 809.19,309.90 809.60,311.27 810.00,310.75 810.41,310.05 810.81,311.48 811.22,309.89 811.63,311.28 812.03,309.77 812.44,311.33 812.85,309.73 813.26,311.56 813.66,310.06 814.07,311.25 814.48,309.96 814.88,311.54 815.29,309.86 815.70,311.32 816.10,309.56 816.51,311.20 816.92,309.88 817.33,311.24 817.73,309.90 818.14,311.04 818.55,310.00 818.95,311.37 819.36,309.65 819.77,311.46 820.17,309.37 820.58,311.12 820.99,309.54 821.40,311.48 821.80,309.79 822.21,311.31 822.62,309.49 823.02,311.45 823.43,309.35 823.84,310.99 824.24,309.47 824.65,310.88 825.06,309.57 825.47,311.04 825.87,309.77 826.28,311.01 826.69,309.58 827.09,311.06 827.50,310.25 827.91,309.74 828.31,311.15 828.72,309.98 829.12,311.66 829.53,310.44 829.94,312.08 830.34,310.70 830.75,311.50 831.17,313.05 831.58,312.80 832.00,314.50 832.42,314.42 832.83,312.25 833.25,312.00 833.67,312.80 834.10,310.98 834.52,312.68 834.95,310.88 835.38,312.26 835.80,310.97 836.23,312.37 836.65,311.07 837.08,312.29 837.50,311.50 837.90,310.72 838.30,311.79 838.70,309.90 839.10,311.28 839.50,310.25 840.50,317.00 841.74,419.74"/>
<polyline stroke="#008000" points="855.00,452.00 855.00,452.00 855.42,451.14 855.83,453.38 856.25,451.75 856.67,453.70 857.08,452.30 857.50,453.25 857.92,454.00 858.33,452.59 858.75,454.25 859.17,452.22 859.58,453.98 860.00,452.20 860.42,453.77 860.83,452.67 861.25,454.05 861.67,452.57 862.08,453.96 862.50,452.16 862.92,453.84 863.33,452.64 863.75,453.88 864.17,452.34 864.58,453.89 865.00,453.25 865.42,452.75 865.83,454.07 866.25,452.52 866.67,453.89 867.08,452.46 867.50,454.14 867.92,452.42 868.33,454.12 868.75,452.42 869.17,454.25 869.58,452.17 870.00,453.95 870.42,452.55 870.83,454.28 871.25,452.57 871.67,454.18 872.08,452.33 872.50,453.25 873.20,450.57"/>
<polyline stroke="#008000" points="896.25,454.50 896.25,454.50 896.67,453.49 897.08,455.17 897.50,453.47 897.92,455.01 898.33,453.41 898.75,454.99 899.17,453.57 899.58,455.19 900.00,453.20 900.42,455.16 900.83,453.30 901.25,454.85 901.67,453.14 902.08,454.91 902.50,454.00 902.90,453.04 903.30,455.06 903.70,453.55 904.10,454.88 904.50,453.30 904.90,454.87 905.30,453.67 905.70,454.82 906.10,453.51 906.50,455.46 906.90,453.36 907.30,455.06 907.70,453.61 908.10,455.31 908.50,453.72 908.90,455.38 909.30,453.62 909.70,455.81 910.10,454.24 910.50,455.73 910.90,454.27 911.30,455.40 911.70,454.25 912.10,455.90 912.50,455.00 912.93,454.26 913.36,456.28 913.79,455.38 914.21,456.94 914.64,455.96 915.07,457.93 915.50,457.50 915.91,456.78 916.33,458.18 916.74,456.52 917.15,458.50 917.57,456.83 917.98,458.23 918.39,456.63 918.80,458.46 919.22,456.41 919.63,458.23 920.04,456.59 920.46,458.33 920.87,456.52 921.28,458.08 921.70,456.90 922.11,458.06 922.52,456.44 922.93,458.15 923.35,456.71 923.76,458.07 924.17,456.81 924.59,458.01 925.00,457.50 925.40,456.66 925.80,458.08 926.21,456.63 926.61,458.16 927.01,456.87 927.41,458.29 927.82,456.78 928.22,458.15 928.62,456.97 929.02,458.03 929.42,456.46 929.83,458.18 930.23,456.96 930.63,458.11 931.03,456.71 931.43,458.60 931.84,456.88 932.24,458.52 932.64,456.71 933.04,458.25 933.45,456.52 933.85,458.23 934.25,457.50 934.65,455.87 935.05,456.13 935.45,453.31 935.85,453.97 936.25,452.00 937.25,442.00 937.33,437.90"/>
<polyline stroke="#ff0000" points="947.30,399.27 948.25,452.00 949.25,489.50 950.25,475.75 951.25,480.00 951.65,479.68 952.05,480.35 952.46,479.76 952.86,480.32 953.26,479.70 953.66,480.19 954.06,479.84 954.46,480.19 954.87,479.82 955.27,480.17 955.67,479.77 956.07,480.30 956.47,479.78 956.88,480.26 957.28,479.84 957.68,480.20 958.08,479.66 958.48,480.16 958.88,479.74 959.29,480.31 959.69,479.69 960.09,480.30 960.49,479.77 960.89,480.31 961.29,479.68 961.70,480.31 962.10,479.65 962.50,480.00 962.90,480.18 963.30,479.66 963.70,480.23 964.11,479.71 964.51,480.21 964.91,479.67 965.31,480.16 965.71,479.73 966.11,480.20 966.51,479.77 966.91,480.23 967.32,479.72 967.72,480.31 968.12,479.77 968.52,480.28 968.92,479.77 969.32,480.21 969.72,479.67 970.12,480.22 970.52,479.82 970.93,480.22 971.33,479.70 971.73,480.20 972.13,479.70 972.53,480.26 972.93,479.71 973.33,480.19 973.74,479.82 974.14,480.19 974.54,479.78 974.94,480.24 975.34,479.84 975.74,480.25 976.14,479.76 976.54,480.22 976.95,479.74 977.35,480.34 977.75,479.80 978.15,480.33 978.55,479.78 978.95,480.30 979.35,479.82 979.75,480.35 980.15,479.76 980.56,480.34 980.96,479.80 981.36,480.24 981.76,479.71 982.16,480.19 982.56,479.79 982.96,480.29 983.37,479.66 983.77,480.22 984.17,479.81 984.57,480.23 984.97,479.65 985.37,480.19 985.77,479.72 986.17,480.23 986.58,479.72 986.98,480.20 987.38,479.72 987.78,480.33 988.18,479.68 988.58,480.28 988.98,479.75 989.38,480.27 989.78,479.82 990.19,480.32 990.59,479.71 990.99,480.24 991.39,479.71 991.79,480.24 992.19,479.77 992.59,480.20 993.00,479.73 993.40,480.27 993.80,479.74 994.20,480.16 994.60,479.72 995.00,480.24 995.40,479.73 995.80,480.27 996.21,479.66 996.61,480.19 997.01,479.75 997.41,480.35 997.81,479.70 998.21,480.22 998.61,479.70 999.01,480.35 999.41,479.77 999.82,480.32 1000.22,479.82 1000.62,480.35 1001.02,479.75 1001.42,480.20 1001.82,479.68 1002.22,480.28 1002.62,479.66 1003.03,480.32 1003.43,479.69 1003.83,480.26 1004.23,479.65 1004.63,480.17 1005.03,479.68 1005.43,480.29 1005.84,479.79 1006.24,480.31 1006.64,479.76 1007.04,480.26 1007.44,479.68 1007.84,480.20 1008.24,479.79 1008.64,480.28 1009.04,479.83 1009.45,480.26 1009.85,479.69 1010.25,480.25 1010.65,479.80 1011.05,480.31 1011.45,479.68 1011.85,480.31 1012.25,479.74 1012.66,480.33 1013.06,479.69 1013.46,480.19 1013.86,479.77 1014.26,480.18 1014.66,479.84 1015.06,480.22 1015.47,479.68 1015.87,480.32 1016.27,479.82 1016.67,480.19 1017.07,479.77 1017.47,480.32 1017.87,479.72 1018.27,480.33 1018.67,479.83 1019.08,480.35 1019.48,479.80 1019.88,480.28 1020.28,479.67 1020.68,480.30 1021.08,479.80 1021.48,480.29 1021.88,479.76 1022.29,480.16 1022.69,479.78 1023.09,480.22 1023.49,479.72 1023.89,480.21 1024.29,479.73 1024.69,480.29 1025.10,479.81 1025.50,480.18 1025.90,479.71 1026.30,480.25 1026.70,479.82 1027.10,480.18 1027.50,479.66 1027.90,480.27 1028.31,479.77 1028.71,480.20 1029.11,479.65 1029.51,480.29 1029.91,479.70 1030.31,480.23 1030.71,479.78 1031.11,480.24 1031.52,479.81 1031.92,480.28 1032.32,479.76 1032.72,480.32 1033.12,479.76 1033.52,480.25 1033.92,479.75 1034.32,480.34 1034.72,479.78 1035.13,480.29 1035.53,479.80 1035.93,480.27 1036.33,479.79 1036.73,480.33 1037.13,479.79 1037.53,480.32 1037.93,479.71 1038.34,480.25 1038.74,479.66 1039.14,480.23 1039.54,479.70 1039.94,480.27 1040.34,479.76 1040.74,480.17 1041.14,479.76 1041.55,480.21 1041.95,479.76 1042.35,480.34 1042.75,480.00 1044.25,416.50"/>
<polyline stroke="#008000" points="1112.71,441.45 1113.25,454.50 1114.25,439.50 1115.50,457.50 1115.91,456.78 1116.31,458.14 1116.72,456.25 1117.12,457.94 1117.53,456.23 1117.94,457.74 1118.34,455.69 1118.75,456.50 1119.17,457.30 1119.58,455.60 1120.00,456.78 1120.42,455.33 1120.83,456.68 1121.25,454.43 1121.67,456.37 1122.08,454.66 1122.50,455.00 1123.00,456.71 1123.50,457.00 1124.09,436.59"/>
<polyline stroke="#008000" points="1125.46,436.35 1126.25,461.50 1128.00,455.75 1128.41,455.15 1128.81,457.01 1129.22,455.84 1129.62,457.60 1130.03,456.17 1130.44,457.86 1130.84,456.71 1131.25,457.50 1131.67,458.31 1132.08,456.86 1132.50,457.95 1132.92,456.56 1133.33,458.01 1133.75,456.33 1134.17,457.91 1134.58,456.49 1135.00,457.73 1135.42,456.54 1135.83,457.90 1136.25,456.27 1136.67,457.84 1137.08,456.02 1137.50,457.00 1137.91,436.50"/>
<polyline stroke="#008000" points="1144.30,457.10 1145.50,449.50 1146.50,457.00 1148.00,447.50 1149.25,458.25 1149.66,458.59 1150.06,456.80 1150.47,458.18 1150.88,456.29 1151.28,457.97 1151.69,456.20 1152.09,457.58 1152.50,456.50 1153.00,453.98 1153.50,454.58 1154.00,452.00 1154.42,451.46 1154.83,452.92 1155.25,452.04 1155.67,453.82 1156.08,452.10 1156.50,453.25 1157.75,457.50 1157.90,450.60"/>
<polyline stroke="#ff0000" points="1175.09,371.25 1175.50,402.00 1176.50,490.00 1177.50,475.00 1178.75,479.00 1179.17,479.28 1179.58,478.88 1180.00,479.25 1180.42,478.88 1180.83,479.46 1181.25,478.86 1181.67,479.49 1182.08,479.02 1182.50,479.45 1182.92,479.07 1183.33,479.47 1183.75,479.11 1184.17,479.64 1184.58,479.11 1185.00,479.61 1185.42,479.10 1185.83,479.73 1186.25,479.09 1186.67,479.72 1187.08,479.22 1187.50,479.50 1187.90,479.83 1188.30,479.27 1188.71,479.72 1189.11,479.20 1189.51,479.71 1189.91,479.27 1190.32,479.74 1190.72,479.25 1191.12,479.73 1191.52,479.26 1191.93,479.74 1192.33,479.33 1192.73,479.82 1193.13,479.33 1193.53,479.76 1193.94,479.24 1194.34,479.73 1194.74,479.30 1195.14,479.68 1195.55,479.27 1195.95,479.72 1196.35,479.25 1196.75,479.70 1197.16,479.20 1197.56,479.75 1197.96,479.34 1198.36,479.74 1198.76,479.16 1199.17,479.66 1199.57,479.23 1199.97,479.84 1200.37,479.27 1200.78,479.77 1201.18,479.27 1201.58,479.72 1201.98,479.23 1202.39,479.77 1202.79,479.28 1203.19,479.75 1203.59,479.24 1203.99,479.80 1204.40,479.33 1204.80,479.68 1205.20,479.29 1205.60,479.71 1206.01,479.19 1206.41,479.74 1206.81,479.18 1207.21,479.73 1207.61,479.29 1208.02,479.79 1208.42,479.33 1208.82,479.85 1209.22,479.18 1209.63,479.72 1210.03,479.28 1210.43,479.82 1210.83,479.19 1211.24,479.78 1211.64,479.33 1212.04,479.80 1212.44,479.33 1212.84,479.78 1213.25,479.24 1213.65,479.84 1214.05,479.22 1214.45,479.66 1214.86,479.16 1215.26,479.80 1215.66,479.23 1216.06,479.66 1216.47,479.20 1216.87,479.74 1217.27,479.21 1217.67,479.85 1218.07,479.17 1218.48,479.67 1218.88,479.19 1219.28,479.74 1219.68,479.20 1220.09,479.73 1220.49,479.26 1220.89,479.74 1221.29,479.32 1221.70,479.72 1221.80,479.58"/>
<polyline stroke="#ff00ff" points="1221.80,479.58 1222.10,479.20 1222.50,479.50 1224.00,416.50 1224.42,418.63 1224.83,417.32 1225.25,419.50 1226.75,397.75 1228.50,452.00 1229.00,451.75 1229.50,449.50 1230.75,455.00 1232.25,429.00 1234.00,453.25 1234.45,452.70 1234.90,454.78 1235.35,453.74 1235.80,455.22 1236.25,455.00 1236.67,454.26 1237.08,455.96 1237.50,454.00 1237.92,455.83 1238.33,454.10 1238.75,455.41 1239.17,453.79 1239.58,455.56 1240.00,454.50 1241.75,423.25 1243.20,452.87"/>
<polyline stroke="#008000" points="1245.00,453.25 1245.00,453.25 1246.75,445.75 1248.00,454.50 1248.41,454.18 1248.81,456.02 1249.22,454.47 1249.62,456.01 1250.03,454.99 1250.44,456.72 1250.84,455.35 1251.25,456.50 1251.67,457.06 1252.08,454.71 1252.50,455.91 1252.92,453.77 1253.33,454.97 1253.75,452.94 1254.17,453.94 1254.58,451.90 1255.00,452.00 1255.79,436.43"/>
<polyline stroke="#008000" points="1257.47,436.63 1258.50,464.00 1260.00,456.50 1260.42,457.50 1260.83,456.17 1261.25,457.64 1261.67,456.49 1262.08,457.94 1262.50,456.52 1262.92,458.33 1263.33,456.94 1263.75,458.65 1264.17,456.95 1264.58,458.82 1265.00,458.25 1265.40,457.40 1265.80,459.04 1266.20,457.16 1266.60,458.94 1267.00,457.33 1267.40,458.89 1267.80,457.60 1268.20,459.19 1268.60,457.41 1269.00,458.90 1269.40,457.72 1269.80,459.24 1270.20,457.53 1270.60,459.18 1271.00,457.49 1271.40,459.12 1271.80,457.42 1272.20,459.34 1272.60,457.20 1273.00,459.02 1273.40,457.46 1273.80,458.88 1274.20,457.30 1274.60,458.81 1275.00,458.25 1275.41,457.50 1275.82,459.12 1276.23,457.53 1276.64,458.89 1277.05,457.07 1277.45,458.67 1277.86,457.08 1278.27,458.29 1278.68,456.57 1279.09,458.53 1279.50,457.50 1280.50,445.10"/>
<polyline stroke="#008000" points="1281.00,445.12 1282.25,460.75 1282.69,458.83 1283.12,459.43 1283.56,456.97 1284.00,457.00 1285.50,449.50 1287.00,458.25 1287.43,458.77 1287.86,457.42 1288.29,458.75 1288.71,456.96 1289.14,458.28 1289.57,456.65 1290.00,457.50 1290.42,458.15 1290.83,456.07 1291.25,457.97 1291.67,455.81 1292.08,457.24 1292.50,455.26 1292.92,457.07 1293.33,455.27 1293.75,455.75 1295.20,448.50"/>
<polyline stroke="#008000" points="1312.50,455.00 1312.50,455.00 1312.92,455.17 1313.33,453.34 1313.75,454.30 1314.17,451.98 1314.58,453.09 1315.00,452.00 1315.42,451.26 1315.83,453.57 1316.25,451.97 1316.67,453.94 1317.08,452.45 1317.50,454.49 1317.92,453.05 1318.33,455.27 1318.75,454.50 1319.17,453.74 1319.58,455.57 1320.00,454.60 1320.42,456.40 1320.83,454.83 1321.25,455.75 1321.66,456.41 1322.06,454.49 1322.47,455.58 1322.88,453.78 1323.28,455.12 1323.69,452.81 1324.09,454.36 1324.50,453.25 1324.93,452.66 1325.36,454.46 1325.79,453.36 1326.21,455.32 1326.64,453.94 1327.07,455.81 1327.50,455.00 1327.93,454.11 1328.36,455.54 1328.79,453.96 1329.21,455.56 1329.64,454.16 1330.07,455.57 1330.50,455.00 1331.60,450.23"/>
<polyline stroke="#008000" points="1332.40,450.63 1333.50,456.50 1333.96,454.74 1334.42,455.85 1334.88,453.48 1335.33,454.37 1335.79,452.27 1336.25,452.50 1336.69,453.66 1337.12,453.24 1337.56,455.22 1338.00,455.00 1338.41,453.91 1338.82,455.91 1339.23,453.99 1339.64,455.97 1340.05,454.19 1340.46,455.54 1340.88,454.19 1341.29,455.61 1341.70,454.19 1342.11,455.71 1342.52,454.20 1342.93,455.61 1343.34,454.08 1343.75,455.00 1344.17,455.12 1344.58,452.96 1345.00,453.67 1345.42,451.71 1345.83,452.71 1346.25,451.25 1346.69,451.10 1347.12,453.96 1347.56,453.49 1348.00,455.00 1348.41,455.72 1348.82,454.39 1349.24,456.05 1349.65,454.11 1350.06,456.31 1350.47,454.19 1350.88,456.36 1351.29,454.34 1351.71,456.46 1352.12,454.93 1352.53,456.28 1352.94,454.68 1353.35,456.48 1353.76,454.75 1354.18,456.53 1354.59,454.65 1355.00,455.75 1355.40,456.27 1355.81,454.89 1356.21,456.75 1356.61,455.14 1357.02,456.19 1357.42,454.58 1357.82,456.65 1358.23,455.05 1358.63,456.05 1359.03,454.51 1359.44,456.40 1359.84,454.65 1360.24,456.28 1360.65,454.46 1361.05,456.37 1361.45,454.87 1361.85,455.87 1362.26,454.34 1362.66,456.38 1363.06,454.27 1363.47,455.98 1363.87,454.52 1364.27,455.90 1364.68,454.67 1365.08,456.11 1365.48,454.47 1365.89,455.95 1366.29,454.26 1366.69,455.75 1367.10,454.12 1367.50,455.00 1367.90,455.77 1368.31,454.36 1368.71,456.03 1369.11,454.40 1369.52,455.59 1369.92,454.35 1370.32,455.78 1370.73,454.03 1371.13,455.70 1371.53,454.36 1371.94,455.89 1372.34,454.35 1372.74,455.81 1373.15,454.35 1373.55,456.03 1373.95,454.39 1374.35,455.64 1374.76,454.32 1375.16,455.69 1375.56,454.07 1375.97,455.90 1376.37,454.03 1376.77,455.82 1377.18,454.46 1377.58,455.96 1377.98,454.36 1378.39,455.63 1378.79,454.25 1379.19,456.09 1379.60,454.28 1380.00,455.00 1380.40,455.69 1380.81,453.92 1381.21,456.05 1381.61,454.21 1382.02,455.50 1382.42,453.93 1382.82,455.86 1383.23,454.17 1383.63,455.83 1384.03,454.11 1384.44,455.49 1384.84,453.95 1385.24,455.73 1385.65,453.99 1386.05,455.75 1386.45,454.24 1386.85,455.52 1387.26,453.98 1387.66,455.23 1388.06,453.63 1388.47,455.24 1388.87,454.03 1389.27,455.66 1389.68,453.54 1390.08,455.66 1390.48,453.88 1390.89,455.62 1391.29,453.97 1391.50,454.74"/>
<polyline stroke="#800080" points="1391.50,454.74 1391.69,455.46 1392.10,453.45 1392.50,454.50 1394.00,447.00 1395.50,429.00 1397.00,444.50 1398.00,437.00 1398.50,430.61 1399.00,420.46 1399.50,414.00 1401.25,453.25 1402.50,447.00 1402.94,448.84 1403.38,447.85 1403.81,450.75 1404.25,450.75 1404.75,449.26 1405.25,450.69 1405.75,449.50 1407.00,404.50 1408.00,447.00 1409.25,397.50 1410.75,449.50 1411.19,450.03 1411.62,452.57 1412.06,452.59 1412.50,454.50 1414.00,432.00 1414.50,428.97 1415.00,421.50 1415.50,424.37 1416.00,429.50 1416.42,428.10 1416.83,422.69 1417.25,421.50 1417.67,425.43 1418.08,425.74 1418.50,430.00 1418.90,430.17 1419.30,426.61 1419.70,428.40 1420.10,423.88 1420.50,424.50 1420.90,427.00 1421.30,424.00 1421.70,428.45 1422.10,425.27 1422.50,428.25 1422.90,428.54 1423.30,425.23 1423.70,426.83 1424.10,423.42 1424.50,424.00 1424.93,426.25 1425.36,422.30 1425.79,426.42 1426.21,423.76 1426.64,426.70 1427.07,423.75 1427.50,425.75 1427.92,427.57 1428.33,424.55 1428.75,427.00 1429.25,424.02 1429.75,416.50 1430.17,421.55 1430.58,431.63 1431.00,436.50 1431.42,429.39 1431.83,428.12 1432.25,421.50 1434.00,442.00 1435.50,402.00 1437.00,329.00 1438.25,335.75 1439.50,330.00 1439.92,330.47 1440.33,333.23 1440.75,333.25 1442.00,352.00 1443.25,458.25 1443.60,456.21"/>
<polyline stroke="#008000" points="1477.16,443.02 1477.50,462.00 1477.90,459.88 1478.30,460.22 1478.70,457.47 1479.10,457.87 1479.50,455.75 1479.94,455.38 1480.38,457.09 1480.81,455.66 1481.25,457.00 1482.75,450.75 1484.00,457.00 1486.00,444.00 1487.25,459.00 1487.71,459.51 1488.17,457.59 1488.62,458.82 1489.08,456.89 1489.54,458.03 1490.00,457.00 1490.42,455.81 1490.83,457.36 1491.25,455.52 1491.67,457.46 1492.08,455.28 1492.50,456.76 1492.92,455.22 1493.33,456.98 1493.75,455.75 1494.15,455.23 1494.55,456.65 1494.95,455.27 1495.35,456.99 1495.75,456.50 1496.33,436.66"/>
<polyline stroke="#008000" points="1497.71,436.59 1498.50,462.00 1498.90,459.90 1499.30,460.09 1499.70,457.18 1500.10,457.67 1500.50,455.75 1500.91,455.36 1501.32,457.00 1501.73,455.55 1502.14,457.26 1502.55,455.80 1502.95,457.81 1503.36,456.12 1503.77,457.82 1504.18,456.77 1504.59,458.23 1505.00,457.60 1505.45,456.42 1505.90,457.40 1506.35,455.16 1506.80,456.29 1507.25,455.00 1507.69,455.45 1508.12,457.80 1508.56,457.21 1509.00,459.00 1510.11,436.80"/>
<polyline stroke="#008000" points="1539.50,456.58 1539.71,457.27 1540.16,455.82 1540.60,457.00 1541.60,439.50 1542.10,441.35 1542.60,436.83 1543.10,438.90 1543.75,460.00 1544.17,460.05 1544.58,457.09 1545.00,457.00 1545.42,458.01 1545.83,456.14 1546.25,458.08 1546.67,456.15 1547.08,457.77 1547.50,456.21 1547.92,457.91 1548.33,456.62 1548.75,458.35 1549.17,456.82 1549.58,458.17 1550.00,456.70 1550.42,458.41 1550.83,456.60 1551.25,458.55 1551.67,456.47 1552.08,458.45 1552.50,457.60 1552.92,456.45 1553.33,457.27 1553.75,455.75 1554.17,456.24 1554.58,458.94 1555.00,458.90 1555.42,457.84 1555.83,459.51 1556.25,458.18 1556.67,459.67 1557.08,457.77 1557.50,459.77 1557.92,457.78 1558.33,459.18 1558.75,457.64 1559.17,459.07 1559.58,457.48 1560.00,459.43 1560.42,457.46 1560.83,459.42 1561.25,457.52 1561.67,459.39 1562.08,457.40 1562.50,458.25 1562.95,458.29 1563.40,456.02 1563.85,456.71 1564.30,454.74 1564.75,454.50 1565.25,456.34 1565.75,456.02 1566.25,458.25 1566.67,458.81 1567.08,457.22 1567.50,459.00 1567.92,457.05 1568.33,458.70 1568.75,457.13 1569.17,458.40 1569.58,457.06 1570.00,457.60 1570.42,458.20 1570.83,456.12 1571.25,456.75 1571.71,458.03 1572.17,456.48 1572.64,458.44 1573.10,457.60 1573.51,455.30 1573.92,455.77 1574.34,452.78 1574.75,452.60 1575.60,439.50 1576.00,434.68"/>
<polyline stroke="#008000" points="1577.20,434.38 1577.75,449.50 1578.40,463.90 1579.40,455.75 1579.86,455.14 1580.33,457.64 1580.79,456.44 1581.25,457.60 1581.60,458.24"/>
</g>
<g clip-path="url(#c2)" fill="none" stroke-width="5.56" stroke-linejoin="round" stroke-linecap="round">
<polyline stroke="#008000" points="69.50,748.05 70.20,722.90 70.80,716.53 71.20,716.26 71.60,717.53 72.10,719.25 72.60,719.32 73.00,718.27 73.40,720.09 73.80,718.52 74.20,720.16 74.60,718.71 75.00,720.11 75.40,718.44 75.80,720.28 76.20,718.76 76.60,719.99 77.00,718.77 77.40,720.29 77.80,718.40 78.20,719.83 78.60,718.23 79.00,720.38 79.40,718.43 79.80,720.17 80.20,718.72 80.60,719.81 81.01,718.50 81.41,719.84 81.81,718.70 82.21,719.95 82.61,718.80 83.01,720.08 83.41,718.55 83.81,720.31 84.21,718.50 84.61,720.19 85.01,718.52 85.41,720.20 85.81,718.54 86.21,719.97 86.61,718.21 87.01,720.40 87.41,718.31 87.81,720.22 88.21,718.62 88.61,719.94 89.01,718.64 89.41,719.84 89.81,718.35 90.21,720.04 90.61,718.30 91.01,720.03 91.41,718.24 91.81,720.31 92.21,718.81 92.61,719.92 93.01,718.26 93.41,720.08 93.81,718.22 94.21,720.03 94.61,718.77 95.01,720.17 95.41,718.34 95.81,719.96 96.21,718.76 96.61,719.99 97.01,718.23 97.41,720.25 97.82,718.74 98.22,719.94 98.62,718.75 99.02,719.83 99.42,718.33 99.82,719.90 100.22,718.47 100.62,720.06 101.02,718.69 101.42,720.23 101.82,718.73 102.22,720.18 102.62,718.74 103.02,720.04 103.42,718.68 103.82,719.95 104.22,718.22 104.62,720.27 105.02,718.62 105.42,720.32 105.82,718.68 106.22,720.02 106.62,718.29 107.02,720.17 107.42,718.74 107.82,720.38 108.22,718.67 108.62,719.94 109.02,718.34 109.42,719.98 109.82,718.62 110.22,719.83 110.62,718.75 111.02,720.14 111.42,718.65 111.82,720.15 112.22,718.58 112.62,720.06 113.02,718.22 113.42,720.07 113.82,718.45 114.22,720.30 114.63,718.69 115.03,719.88 115.43,718.25 115.83,720.27 116.23,718.65 116.63,719.90 117.03,718.35 117.43,720.35 117.83,718.68 118.23,720.35 118.63,718.27 119.03,720.14 119.43,718.54 119.83,719.84 120.23,718.77 120.63,720.36 121.03,718.65 121.43,720.20 121.83,718.64 122.23,720.27 122.63,718.43 123.03,719.95 123.43,718.69 123.83,720.21 124.23,718.75 124.63,719.91 125.03,718.46 125.43,720.29 125.83,718.42 126.23,719.94 126.63,718.24 127.03,719.90 127.43,718.78 127.83,719.94 128.23,718.52 128.63,719.81 129.03,718.68 129.43,720.00 129.83,718.45 130.23,719.85 130.63,718.57 131.04,720.31 131.44,718.20 131.84,720.17 132.24,718.37 132.64,720.12 133.04,718.70 133.44,719.79 133.84,718.78 134.24,720.32 134.64,718.36 135.04,720.35 135.44,718.77 135.84,720.15 136.24,718.50 136.64,720.21 137.04,718.59 137.44,720.37 137.84,718.74 138.24,720.10 138.64,718.34 139.04,720.31 139.44,718.34 139.84,720.19 140.24,718.31 140.64,720.32 141.04,718.57 141.44,720.18 141.84,718.24 142.24,720.29 142.64,718.53 143.04,720.24 143.44,718.26 143.84,720.11 144.24,718.40 144.64,719.99 145.04,718.43 145.44,720.13 145.84,718.73 146.24,720.15 146.64,718.18 147.04,720.29 147.44,718.34 147.85,720.00 148.25,718.34 148.65,720.11 149.05,718.51 149.45,720.27 149.85,718.73 150.25,720.21 150.65,718.76 151.05,720.12 151.45,718.49 151.85,719.90 152.25,718.36 152.65,720.06 153.05,718.41 153.45,720.31 153.85,718.62 154.25,719.77 154.65,718.59 155.05,720.17 155.45,718.65 155.85,719.86 156.25,718.23 156.65,720.15 157.05,718.51 157.45,720.29 157.85,718.58 158.25,720.16 158.65,718.65 159.05,720.02 159.45,718.29 159.85,720.31 160.25,718.24 160.65,719.99 161.05,718.42 161.45,719.95 161.85,718.69 162.25,720.05 162.65,718.27 163.05,720.26 163.45,718.34 163.85,720.32 164.25,718.60 164.66,719.85 165.06,718.50 165.46,719.92 165.86,718.64 166.26,720.00 166.66,718.39 167.06,720.05 167.46,718.58 167.86,720.26 168.26,718.18 168.66,720.02 169.06,718.72 169.46,719.77 169.86,718.24 170.26,719.77 170.66,718.34 171.06,720.09 171.46,718.58 171.86,720.22 172.26,718.75 172.66,719.83 173.06,718.49 173.46,719.76 173.86,718.26 174.26,719.89 174.66,718.68 175.06,719.77 175.46,718.38 175.86,720.01 176.26,718.38 176.66,720.14 177.06,718.28 177.46,720.32 177.86,718.35 178.26,719.86 178.66,718.47 179.06,719.85 179.46,718.75 179.86,720.03 180.26,718.33 180.66,719.85 181.06,718.59 181.47,719.95 181.87,718.34 182.27,720.06 182.67,718.39 183.07,720.20 183.47,718.52 183.87,720.22 184.27,718.21 184.67,719.79 185.07,718.20 185.47,720.18 185.87,718.68 186.27,720.01 186.67,718.38 187.07,720.29 187.47,718.53 187.87,720.08 188.27,718.23 188.67,720.22 189.07,718.19 189.47,720.02 189.87,718.36 190.27,719.86 190.67,718.32 191.07,720.23 191.47,718.37 191.87,720.17 192.27,718.62 192.67,720.28 193.07,718.16 193.47,720.32 193.87,718.43 194.27,720.21 194.67,718.56 195.07,720.28 195.47,718.24 195.87,719.94 196.27,718.70 196.67,720.00 197.07,718.42 197.47,720.20 197.88,718.46 198.28,719.75 198.68,718.26 199.08,719.77 199.48,718.27 199.88,719.84 200.28,718.55 200.68,720.21 201.08,718.66 201.48,719.82 201.88,718.44 202.28,720.17 202.68,718.24 203.08,720.14 203.48,718.18 203.88,720.03 204.28,718.17 204.68,719.78 205.08,718.61 205.48,720.05 205.88,718.57 206.28,720.17 206.68,718.36 207.08,720.04 207.48,718.24 207.88,720.06 208.28,718.56 208.68,719.96 209.08,718.23 209.48,720.27 209.88,718.62 210.28,720.24 210.68,718.16 211.08,720.04 211.48,718.40 211.88,719.85 212.28,718.42 212.68,720.03 213.08,718.38 213.48,719.74 213.88,718.16 214.28,720.03 214.69,718.50 215.09,720.20 215.49,718.40 215.89,720.02 216.29,718.32 216.69,719.76 217.09,718.41 217.49,719.97 217.89,718.16 218.29,720.28 218.69,718.57 219.09,720.01 219.49,718.66 219.89,719.98 220.29,718.24 220.69,720.26 221.09,718.45 221.49,719.91 221.89,718.62 222.29,720.09 222.69,718.18 223.09,719.80 223.49,718.26 223.89,719.73 224.29,718.62 224.69,719.85 225.09,718.32 225.49,719.91 225.89,718.52 226.29,720.09 226.69,718.67 227.09,720.16 227.49,718.66 227.89,720.02 228.29,718.58 228.69,719.83 229.09,718.41 229.49,719.98 229.89,718.50 230.29,719.96 230.69,718.41 231.09,719.81 231.50,718.61 231.90,720.09 232.30,718.34 232.70,720.03 233.10,718.22 233.50,720.08 233.90,718.21 234.30,719.85 234.70,718.28 235.10,720.20 235.50,718.18 235.90,719.90 236.30,718.54 236.70,720.27 237.10,718.59 237.50,720.31 237.90,718.19 238.30,719.79 238.70,718.58 239.10,720.15 239.50,719.22 239.90,718.92 240.80,680.24 241.25,678.44 241.70,679.34 242.30,704.20 242.75,704.50 243.20,703.71 244.05,671.99 244.62,673.19 245.20,678.55 245.70,681.27 246.20,678.85 246.70,682.03 247.25,680.38 247.80,676.36 248.23,674.33 248.67,677.26 249.10,674.87 249.53,673.72 249.97,675.95 250.40,674.57 250.73,673.58 251.05,676.36 251.40,677.44 251.75,674.17 252.30,666.32 252.70,664.72 253.10,667.61 253.50,672.88 253.85,671.87 254.20,668.51 254.50,670.97 254.80,676.76 255.40,671.99 255.75,676.16 256.10,676.36 256.45,672.96 256.80,672.88 257.40,676.36 257.85,679.35 258.30,678.55 258.80,681.19 259.30,687.49 259.80,690.28 260.27,684.99 260.75,682.03 261.23,672.67 261.70,661.15 262.20,662.01 262.70,666.32 263.25,670.83 263.80,671.99 264.35,669.80 264.90,671.09 265.32,673.85 265.75,674.17 266.27,668.79 266.80,665.92 267.25,667.85 267.70,667.21 268.05,675.57 268.40,688.09 269.10,721.11 270.10,715.54 270.55,717.05 271.00,715.33 271.45,717.35 271.90,717.23 272.32,717.02 272.75,718.94 273.18,717.43 273.60,718.52 274.00,719.48 274.40,717.85 274.80,719.32 275.20,717.75 275.60,719.31 276.00,717.71 276.40,719.07 276.80,717.67 277.20,719.59 277.60,717.99 278.00,719.37 278.40,717.67 278.80,719.35 279.20,718.01 279.60,719.22 280.00,717.84 280.40,719.15 280.80,717.62 281.20,719.64 281.60,717.75 282.00,719.69 282.40,717.81 282.80,719.43 283.20,717.85 283.60,719.50 284.00,717.63 284.40,719.70 284.80,718.08 285.20,719.78 285.60,717.80 286.00,719.71 286.40,717.78 286.80,719.50 287.20,717.74 287.60,719.80 288.00,717.88 288.40,719.75 288.80,717.85 289.20,719.55 289.60,718.82 290.30,698.93 291.20,717.92 293.00,683.72 295.25,705.59 298.00,631.12 299.75,711.21 300.20,710.95 300.65,713.08 301.10,712.51 301.55,714.65 302.00,714.54 304.70,655.78 306.50,749.74 307.60,736.91 307.90,737.53"/>
<polyline stroke="#ff0000" points="307.90,737.53 308.18,738.10 308.75,739.60 309.20,740.06 309.65,739.80 310.10,740.59 310.55,740.35 311.00,740.79 311.40,741.13 311.80,740.51 312.20,741.01 312.60,740.51 313.01,741.06 313.41,740.53 313.81,741.02 314.21,740.44 314.61,741.07 315.01,740.50 315.41,741.09 315.81,740.45 316.21,740.95 316.61,740.52 317.02,741.09 317.42,740.59 317.82,741.03 318.22,740.63 318.62,740.99 319.02,740.56 319.42,740.97 319.82,740.59 320.22,741.12 320.62,740.53 321.03,741.05 321.43,740.45 321.83,741.06 322.23,740.45 322.63,741.07 323.03,740.48 323.43,740.96 323.83,740.52 324.23,741.09 324.64,740.63 325.04,741.13 325.44,740.61 325.84,741.04 326.24,740.60 326.64,741.04 327.04,740.52 327.44,740.96 327.84,740.45 328.24,741.03 328.65,740.54 329.05,741.06 329.45,740.57 329.85,741.00 330.25,740.51 330.65,741.06 331.05,740.58 331.45,741.09 331.85,740.58 332.25,740.95 332.66,740.59 333.06,740.96 333.46,740.61 333.86,741.09 334.26,740.56 334.66,741.12 335.06,740.49 335.46,740.96 335.86,740.45 336.26,741.13 336.67,740.62 337.07,741.12 337.47,740.55 337.87,741.04 338.27,740.45 338.67,741.00 339.07,740.54 339.47,741.13 339.87,740.50 340.28,741.04 340.68,740.45 341.08,741.11 341.48,740.52 341.88,740.97 342.28,740.52 342.68,741.04 343.08,740.60 343.48,740.96 343.88,740.53 344.29,740.97 344.69,740.55 345.09,741.08 345.49,740.55 345.89,741.00 346.29,740.52 346.69,741.03 347.09,740.49 347.49,741.05 347.89,740.44 348.30,741.13 348.70,740.50 349.10,740.99 349.50,740.61 349.90,741.12 350.30,740.49 350.70,741.07 351.10,740.57 351.50,741.00 351.91,740.50 352.31,741.06 352.71,740.52 353.11,741.07 353.51,740.49 353.91,740.99 354.31,740.59 354.71,741.14 355.11,740.46 355.51,741.12 355.92,740.63 356.32,740.96 356.72,740.58 357.12,741.03 357.52,740.52 357.92,740.97 358.32,740.53 358.72,740.96 359.12,740.62 359.52,741.08 359.93,740.53 360.33,741.07 360.73,740.56 361.13,741.04 361.53,740.60 361.93,741.01 362.33,740.49 362.73,741.11 363.13,740.62 363.54,740.97 363.94,740.48 364.34,741.07 364.74,740.49 365.14,740.99 365.54,740.55 365.94,741.00 366.34,740.48 366.74,741.02 367.14,740.51 367.55,741.14 367.95,740.57 368.35,741.05 368.75,740.49 369.15,741.13 369.55,740.55 369.95,741.02 370.35,740.62 370.75,741.12 371.15,740.62 371.56,740.96 371.96,740.53 372.36,741.04 372.76,740.50 373.16,741.01 373.56,740.49 373.96,740.96 374.36,740.60 374.76,741.08 375.16,740.62 375.57,741.01 375.97,740.50 376.37,741.08 376.77,740.58 377.17,740.98 377.57,740.57 377.97,741.09 378.37,740.57 378.77,740.97 379.18,740.50 379.58,741.06 379.98,740.46 380.38,741.13 380.78,740.46 381.18,741.03 381.58,740.48 381.98,741.01 382.38,740.58 382.78,741.03 383.19,740.46 383.59,741.12 383.99,740.59 384.39,741.02 384.79,740.57 385.19,741.02 385.59,740.56 385.99,741.02 386.39,740.60 386.79,741.06 387.20,740.48 387.60,741.05 388.00,740.48 388.40,741.06 388.70,740.86"/>
<polyline stroke="#ffa500" points="388.70,740.86 388.80,740.79 390.50,678.15 391.00,681.46 391.50,689.25 392.00,691.82 392.42,690.31 392.83,694.45 393.25,692.63 393.67,695.99 394.08,693.22 394.50,695.55 394.93,696.94 395.36,692.60 395.79,696.33 396.21,692.09 396.64,694.89 397.07,691.70 397.50,693.07 398.00,692.02 398.50,685.80 399.00,683.87 399.50,687.24 400.00,686.39 400.50,690.58 401.00,691.08 401.50,686.13 402.00,685.61 402.43,687.61 402.86,684.75 403.29,688.11 403.71,684.47 404.14,687.83 404.57,685.37 405.00,686.85 405.50,689.26 406.00,686.00 406.50,688.09 407.00,686.61 407.50,679.61 408.00,677.65 408.50,685.90 409.00,689.00 409.50,698.04 410.00,692.46 410.50,683.12 412.50,703.51 415.00,591.65 416.25,601.09 417.50,591.65 417.92,590.86 418.33,592.46 418.75,591.65 419.50,601.09 420.75,613.52 422.00,721.65 423.00,712.54"/>
<polyline stroke="#008000" points="423.00,712.54 423.50,707.98 424.50,715.44 424.90,714.26 425.30,715.86 425.70,713.65 426.10,715.18 426.50,714.19 428.50,587.92 431.25,653.29 432.25,658.27 433.50,707.48 435.00,671.94 436.50,715.44 438.00,701.77 439.50,719.17 439.90,717.93 440.30,719.56 440.70,717.42 441.10,719.15 441.50,717.92 444.00,685.61 444.38,690.37 444.75,699.28 445.17,694.80 445.58,683.79 446.00,679.39 446.42,685.79 446.83,686.82 447.25,693.07 447.75,682.56 448.25,668.21 448.67,670.31 449.08,678.05 449.50,680.64 451.25,632.91 453.00,676.91 453.50,675.97 454.00,678.15 455.00,716.68 455.42,717.47 455.83,716.16 456.25,718.39 456.67,716.79 457.08,718.31 457.50,717.92 458.50,712.95 459.50,719.17 460.50,712.95 461.50,717.92 462.00,716.89 462.50,717.84 463.00,716.68 464.25,702.51 465.50,719.91 465.91,719.18 466.32,720.85 466.73,719.18 467.14,720.32 467.55,719.01 467.95,720.39 468.36,718.48 468.77,719.97 469.18,718.77 469.59,720.00 470.00,719.17 470.43,717.79 470.86,719.14 471.29,717.05 471.71,717.59 472.14,715.90 472.57,716.59 473.00,715.44 473.50,716.05 474.00,717.92 475.25,677.41 476.75,722.15 478.25,716.68 478.69,718.23 479.12,717.07 479.56,719.17 480.00,719.17 480.40,718.07 480.80,718.83 481.20,717.08 481.60,718.13 482.00,716.68 482.50,714.76 483.00,715.02 483.50,712.95 485.25,650.81 486.75,715.44 488.00,688.09 489.50,636.39 491.50,689.34 492.00,685.42 492.50,685.61 494.00,716.68 496.50,709.22 498.50,623.96 500.50,685.61 500.88,674.81 501.25,660.75 502.50,750.24 503.50,736.57 503.75,737.81"/>
<polyline stroke="#ff0000" points="503.75,737.81 504.50,741.54 504.94,741.10 505.38,741.39 505.81,740.50 506.25,740.59 506.65,740.82 507.05,740.35 507.45,740.96 507.85,740.38 508.25,740.83 508.65,740.48 509.05,740.99 509.45,740.35 509.85,740.90 510.25,740.42 510.65,740.94 511.05,740.48 511.45,741.04 511.85,740.42 512.25,740.92 512.65,740.56 513.05,740.98 513.45,740.51 513.85,741.05 514.25,740.46 514.65,741.03 515.05,740.58 515.45,740.96 515.85,740.57 516.25,740.79 516.65,741.00 517.05,740.47 517.46,741.05 517.86,740.51 518.26,741.14 518.66,740.58 519.06,741.05 519.47,740.61 519.87,741.10 520.27,740.64 520.67,741.11 521.08,740.47 521.48,741.11 521.88,740.62 522.28,741.00 522.68,740.50 523.09,740.97 523.49,740.54 523.89,741.04 524.29,740.45 524.69,741.06 525.10,740.47 525.50,741.01 525.90,740.79 527.41,681.68"/>
<polyline stroke="#ffa500" points="527.41,681.68 527.50,678.15 527.92,680.69 528.33,688.82 528.75,691.82 529.17,688.48 529.58,690.65 530.00,686.27 530.42,688.47 530.83,684.31 531.25,684.86 531.67,688.46 532.08,687.45 532.50,690.58 532.92,691.83 533.33,687.50 533.75,689.51 534.17,686.14 534.58,687.85 535.00,685.61 535.42,684.20 535.83,687.95 536.25,684.75 536.67,688.33 537.08,685.48 537.50,686.85 537.92,689.21 538.33,686.90 538.75,689.34 539.19,688.48 539.62,681.05 540.06,681.87 540.50,676.91 541.00,682.49 541.50,691.67 542.00,696.79 542.42,689.90 542.83,688.18 543.25,681.88 545.00,703.01 548.00,590.65 549.25,598.61 550.50,591.65 552.00,601.09 553.00,638.38 554.25,719.17 555.20,713.66"/>
<polyline stroke="#008000" points="555.20,713.66 555.75,710.47 556.19,710.57 556.62,713.10 557.06,712.76 557.50,714.19 558.00,715.70 558.50,714.05 559.00,715.44 561.25,580.71 562.02,600.77"/>
<polyline stroke="#0000ff" points="562.02,600.77 563.75,645.84 565.50,699.28 567.50,654.54 568.75,678.15 569.12,675.96 569.50,671.19 572.00,718.42 572.43,717.49 572.86,718.95 573.29,717.49 573.71,718.95 574.14,717.39 574.57,718.69 575.00,717.92 576.25,685.61 577.50,707.98 578.25,683.12 578.67,680.77 579.08,683.33 579.50,680.64 579.94,675.06 580.38,673.47 580.81,666.01 581.25,663.73 581.67,668.74 582.08,668.64 582.50,674.42 582.92,675.08 583.33,670.33 583.75,671.19 584.17,680.34 584.58,684.53 585.00,694.31 586.50,647.83 588.00,720.91 588.40,720.61 588.80,718.64 589.20,718.92 589.60,716.63 590.00,716.68 590.42,717.81 590.83,716.49 591.25,718.04 591.67,716.51 592.08,718.57 592.50,717.92 594.00,712.45 595.00,717.92 596.75,706.74 598.00,719.17 598.41,718.46 598.81,719.48 599.22,718.11 599.62,719.11 600.03,717.65 600.44,718.77 600.84,717.03 601.25,717.92 601.66,718.21 602.06,716.19 602.47,717.41 602.88,715.11 603.28,716.58 603.69,714.40 604.09,715.35 604.50,714.19 604.90,714.45 605.30,716.68 605.70,716.44 606.10,719.09 606.50,719.17 608.00,676.91 609.50,723.39 611.25,717.43 611.67,716.54 612.08,718.78 612.50,717.12 612.92,719.06 613.33,717.89 613.75,719.28 614.17,718.08 614.58,719.86 615.00,719.17 615.41,718.61 615.82,719.89 616.23,718.37 616.64,720.13 617.05,718.18 617.46,720.03 617.88,718.58 618.29,720.12 618.70,718.13 619.11,719.99 619.52,718.46 619.93,719.96 620.34,718.59 620.75,719.17 622.25,629.68 622.75,631.84 623.25,632.17 624.50,622.72 626.00,680.64 627.25,720.91 628.75,710.47 629.50,717.92 630.75,704.25 632.00,721.65 632.44,719.94 632.88,721.21 633.31,718.87 633.75,719.17 634.19,719.54 634.62,717.31 635.06,718.36 635.50,716.68 635.90,715.66 636.30,716.99 636.70,715.69 637.10,716.72 637.50,715.93 637.90,714.00 638.30,714.66 638.70,711.96 639.10,712.61 639.50,710.47 641.00,705.49 642.50,624.71 643.75,668.21 644.25,664.86 644.75,664.48 645.75,705.49 647.00,714.19 648.00,703.01 649.50,572.51 650.50,584.94 651.50,572.51 652.50,582.45 652.92,582.81 653.33,581.05 653.75,581.21 655.00,576.24 655.40,577.31 655.80,575.66 656.20,577.27 656.60,575.42 657.00,576.24 657.44,578.00 657.88,577.27 658.31,579.68 658.75,579.96 659.17,579.01 659.58,581.22 660.00,579.23 660.42,581.15 660.83,579.81 661.25,580.46 661.67,581.53 662.08,579.96 662.50,581.74 662.92,580.16 663.33,581.71 663.75,579.97 664.17,581.65 664.58,580.30 665.00,581.21 665.42,581.58 665.83,580.36 666.25,580.71 667.50,576.73 667.92,577.58 668.33,576.14 668.75,578.54 669.17,576.84 669.58,578.65 670.00,578.22 670.40,577.03 670.80,578.56 671.20,576.61 671.60,577.88 672.00,576.73 673.00,573.25 673.40,572.48 673.80,574.15 674.20,573.24 674.60,574.82 675.00,574.25 675.42,573.63 675.83,574.89 676.25,573.29 676.67,574.68 677.08,573.24 677.50,574.65 677.92,573.12 678.33,574.61 678.75,573.00 679.17,574.35 679.58,572.90 680.00,573.75 680.42,574.29 680.83,572.60 681.25,574.48 681.67,572.81 682.08,574.28 682.50,572.63 682.92,574.37 683.33,572.47 683.75,574.32 684.17,572.55 684.58,574.38 685.00,573.25 685.42,572.01 685.83,573.76 686.25,571.77 686.67,573.01 687.08,571.18 687.50,571.76 687.92,573.13 688.33,571.62 688.75,573.56 689.17,572.34 689.58,574.45 690.00,573.75 690.42,573.06 690.83,574.28 691.25,572.82 691.67,574.78 692.08,572.82 692.50,574.60 692.92,572.81 693.33,574.43 693.75,572.90 694.17,574.28 694.58,573.18 695.00,573.75 695.40,574.49 695.80,572.92 696.20,574.42 696.60,573.15 697.00,574.56 697.40,572.82 697.80,574.25 698.20,572.91 698.60,574.30 699.00,572.92 699.40,574.06 699.80,572.47 700.20,574.57 700.60,572.58 701.00,574.47 701.40,572.69 701.80,574.39 702.20,572.77 702.60,574.31 703.00,572.52 703.40,574.37 703.80,572.76 704.20,574.26 704.60,572.71 705.00,573.25 705.40,574.11 705.80,572.27 706.20,573.86 706.60,572.77 707.00,574.12 707.40,572.80 707.80,574.06 708.20,572.54 708.60,574.59 709.00,572.92 709.40,574.40 709.80,572.89 710.20,574.29 710.60,573.30 711.00,574.88 711.40,573.21 711.80,574.72 712.20,572.91 712.60,575.09 713.00,573.27 713.40,574.70 713.80,573.46 714.20,575.21 714.60,573.18 715.00,574.25 715.41,574.84 715.81,573.22 716.22,574.91 716.62,573.42 717.03,574.78 717.43,573.15 717.84,575.24 718.24,573.53 718.65,575.00 719.05,573.51 719.46,575.12 719.86,573.56 720.27,574.63 720.68,573.13 721.08,574.73 721.49,573.00 721.89,575.03 722.30,573.08 722.70,574.57 723.11,573.07 723.51,575.02 723.92,573.19 724.32,574.48 724.73,573.30 725.14,574.59 725.54,572.98 725.95,574.49 726.35,573.27 726.76,574.49 727.16,572.95 727.57,574.80 727.97,573.10 728.38,574.69 728.78,572.77 729.19,574.62 729.59,573.13 730.00,573.75 730.40,573.93 730.80,571.71 731.20,573.15 731.60,571.10 732.00,571.26 732.44,571.83 732.88,570.10 733.31,571.42 733.75,570.02 734.17,569.68 734.58,571.66 735.00,570.45 735.42,572.20 735.83,571.24 736.25,572.51 736.67,573.36 737.08,572.25 737.50,574.06 737.92,572.74 738.33,574.14 738.75,572.72 739.17,574.50 739.58,573.39 740.00,574.25 740.40,575.05 740.80,573.60 741.20,575.22 741.60,573.08 742.00,574.66 742.40,573.36 742.80,575.05 743.20,573.36 743.60,575.12 744.00,573.26 744.40,574.63 744.80,573.18 745.20,574.87 745.60,573.26 746.00,574.84 746.40,572.97 746.80,574.71 747.20,573.09 747.60,574.87 748.00,572.95 748.40,574.63 748.80,572.75 749.20,574.39 749.60,572.81 750.00,573.75 750.40,574.32 750.80,572.85 751.20,574.32 751.60,572.91 752.00,574.61 752.40,572.67 752.80,574.58 753.20,572.96 753.60,574.36 754.00,572.93 754.40,574.37 754.80,572.72 755.20,574.00 755.60,572.62 756.00,574.37 756.40,572.60 756.80,574.43 757.20,572.79 757.60,573.96 758.00,572.85 758.40,574.12 758.80,572.56 759.20,574.05 759.60,572.62 760.00,573.25 760.42,574.34 760.83,572.94 761.25,574.62 761.67,572.86 762.08,574.62 762.50,572.95 762.92,574.66 763.33,573.56 763.75,574.25 764.17,574.76 764.58,573.40 765.00,574.43 765.42,572.72 765.83,574.23 766.25,573.25 766.66,572.59 767.07,574.08 767.47,572.68 767.88,574.20 768.29,572.60 768.70,573.83 769.10,572.59 769.51,574.07 769.92,572.16 770.33,574.11 770.73,572.61 771.14,573.86 771.55,572.40 771.96,573.72 772.36,572.01 772.77,573.60 773.18,572.28 773.59,574.01 773.99,571.96 774.40,573.62 774.81,572.26 775.22,573.96 775.62,572.49 776.03,573.63 776.44,571.96 776.85,573.55 777.26,572.23 777.66,573.62 778.07,572.19 778.48,573.47 778.89,572.41 779.29,574.00 779.70,571.94 780.11,573.82 780.52,572.24 780.92,573.51 781.33,572.03 781.74,573.48 782.15,572.06 782.55,573.87 782.96,572.10 783.37,573.49 783.78,571.71 784.18,573.64 784.59,572.25 785.00,572.76 785.40,573.49 785.81,571.86 786.21,573.27 786.61,572.04 787.02,573.65 787.42,571.72 787.82,573.58 788.23,571.70 788.63,573.49 789.03,571.99 789.44,573.71 789.84,571.99 790.24,573.67 790.65,572.08 791.05,573.40 791.45,572.09 791.85,573.51 792.26,572.09 792.66,573.29 793.06,572.05 793.47,573.45 793.87,571.99 794.27,573.42 794.68,571.57 795.08,573.56 795.48,571.64 795.89,573.26 796.29,571.92 796.69,573.18 797.10,571.73 797.50,573.34 797.90,571.97 798.31,573.13 798.71,572.02 799.11,573.27 799.52,571.88 799.92,573.66 800.32,571.68 800.73,573.25 801.13,571.89 801.53,573.18 801.94,571.53 802.34,573.29 802.74,571.63 803.15,573.50 803.55,571.53 803.95,573.07 804.35,571.88 804.76,573.28 805.16,572.01 805.56,573.57 805.97,571.86 806.37,573.50 806.77,571.73 807.18,573.06 807.58,571.80 807.98,573.16 808.39,572.01 808.79,573.10 809.19,571.66 809.60,573.02 810.00,572.51 810.41,571.82 810.81,573.23 811.22,571.65 811.63,573.03 812.03,571.53 812.44,573.09 812.85,571.50 813.26,573.31 813.66,571.82 814.07,573.01 814.48,571.72 814.88,573.29 815.29,571.62 815.70,573.07 816.10,571.32 816.51,572.95 816.92,571.64 817.33,573.00 817.73,571.67 818.14,572.79 818.55,571.76 818.95,573.12 819.36,571.41 819.77,573.21 820.17,571.14 820.58,572.88 820.99,571.30 821.40,573.23 821.80,571.55 822.21,573.07 822.62,571.26 823.02,573.20 823.43,571.11 823.84,572.75 824.24,571.23 824.65,572.64 825.06,571.33 825.47,572.80 825.87,571.53 826.28,572.77 826.69,571.34 827.09,572.81 827.50,572.01 827.91,571.50 828.31,572.91 828.72,571.74 829.12,573.41 829.53,572.19 829.94,573.83 830.34,572.46 830.75,573.25 831.17,574.80 831.58,574.54 832.00,576.24 832.42,576.15 832.83,574.00 833.25,573.75 833.67,574.54 834.10,572.74 834.52,574.43 834.95,572.64 835.38,574.01 835.80,572.72 836.23,574.11 836.65,572.82 837.08,574.04 837.50,573.25 837.90,572.48 838.30,573.55 838.70,571.66 839.10,573.03 839.50,572.01 840.50,578.72 842.25,722.90 842.40,721.40"/>
<polyline stroke="#008000" points="842.40,721.40 843.25,712.95 843.69,713.01 844.12,715.09 844.56,714.68 845.00,715.93 845.50,715.64 846.00,712.92 846.50,712.95 848.50,696.05 850.25,715.93 850.70,716.57 851.15,714.89 851.60,716.23 852.05,714.54 852.50,714.94 852.92,715.38 853.33,713.42 853.75,715.01 854.17,712.90 854.58,714.12 855.00,712.95 855.42,712.10 855.83,714.32 856.25,712.70 856.67,714.65 857.08,713.25 857.50,714.19 857.92,714.94 858.33,713.54 858.75,715.19 859.17,713.17 859.58,714.92 860.00,713.16 860.42,714.71 860.83,713.62 861.25,714.99 861.67,713.52 862.08,714.90 862.50,713.12 862.92,714.78 863.33,713.59 863.75,714.82 864.17,713.29 864.58,714.83 865.00,714.19 865.42,713.70 865.83,715.01 866.25,713.47 866.67,714.83 867.08,713.41 867.50,715.08 867.92,713.37 868.33,715.06 868.75,713.37 869.17,715.19 869.58,713.12 870.00,714.89 870.42,713.49 870.83,715.22 871.25,713.51 871.67,715.12 872.08,713.28 872.50,714.19 874.00,708.48 874.50,709.63 875.00,707.90 875.50,709.22 877.00,715.93 877.42,716.63 877.83,714.77 878.25,715.93 878.67,713.99 879.08,715.32 879.50,714.19 879.94,713.79 880.38,715.48 880.81,714.18 881.25,715.44 882.50,670.69 884.00,715.93 884.50,715.34 885.00,712.48 885.50,711.71 885.90,712.85 886.30,712.02 886.70,713.80 887.10,712.90 887.50,714.19 887.92,714.76 888.33,713.66 888.75,714.73 889.17,713.64 889.58,715.11 890.00,713.63 890.42,714.96 890.83,713.24 891.25,714.19 892.50,709.22 892.90,710.15 893.30,708.93 893.70,710.68 894.10,708.80 894.50,709.97 894.94,711.86 895.38,712.06 895.81,714.87 896.25,715.44 896.67,714.43 897.08,716.10 897.50,714.42 897.92,715.95 898.33,714.35 898.75,715.93 899.17,714.51 899.58,716.12 900.00,714.14 900.42,716.10 900.83,714.24 901.25,715.79 901.67,714.09 902.08,715.84 902.50,714.94 902.90,713.99 903.30,715.99 903.70,714.49 904.10,715.82 904.50,714.24 904.90,715.81 905.30,714.62 905.70,715.76 906.10,714.45 906.50,716.40 906.90,714.30 907.30,715.99 907.70,714.55 908.10,716.24 908.50,714.67 908.90,716.31 909.30,714.56 909.70,716.74 910.10,715.17 910.50,716.66 910.90,715.21 911.30,716.33 911.70,715.19 912.10,716.83 912.50,715.93 912.93,715.20 913.36,717.21 913.79,716.31 914.21,717.86 914.64,716.89 915.07,718.85 915.50,718.42 915.91,717.70 916.33,719.10 916.74,717.45 917.15,719.42 917.57,717.76 917.98,719.15 918.39,717.56 918.80,719.37 919.22,717.34 919.63,719.15 920.04,717.51 920.46,719.24 920.87,717.45 921.28,719.00 921.70,717.82 922.11,718.98 922.52,717.37 922.93,719.06 923.35,717.63 923.76,718.99 924.17,717.73 924.59,718.92 925.00,718.42 925.40,717.59 925.80,719.00 926.21,717.55 926.61,719.08 927.01,717.79 927.41,719.20 927.82,717.71 928.22,719.07 928.62,717.90 929.02,718.95 929.42,717.39 929.83,719.10 930.23,717.88 930.63,719.02 931.03,717.64 931.43,719.51 931.84,717.81 932.24,719.43 932.64,717.64 933.04,719.16 933.45,717.44 933.85,719.15 934.25,718.42 934.65,716.80 935.05,717.06 935.45,714.25 935.85,714.91 936.25,712.95 937.25,703.01 938.25,652.05 939.50,703.01 939.92,703.18 940.33,705.72 940.75,705.49 942.00,653.79 942.75,658.27 944.00,712.45 945.25,649.57 946.25,686.85 947.25,657.77 948.25,712.95 949.25,750.24 950.25,736.57 951.25,740.79 951.65,740.47 951.80,740.72"/>
<polyline stroke="#ff0000" points="951.80,740.72 952.05,741.14 952.46,740.55 952.86,741.11 953.26,740.50 953.66,740.98 954.06,740.63 954.46,740.98 954.87,740.61 955.27,740.96 955.67,740.57 956.07,741.09 956.47,740.58 956.88,741.05 957.28,740.63 957.68,740.99 958.08,740.45 958.48,740.95 958.88,740.53 959.29,741.10 959.69,740.48 960.09,741.09 960.49,740.56 960.89,741.10 961.29,740.48 961.70,741.10 962.10,740.45 962.50,740.79 962.90,740.97 963.30,740.45 963.70,741.03 964.11,740.50 964.51,741.00 964.91,740.46 965.31,740.95 965.71,740.53 966.11,740.99 966.51,740.56 966.91,741.02 967.32,740.51 967.72,741.10 968.12,740.57 968.52,741.07 968.92,740.57 969.32,741.00 969.72,740.46 970.12,741.01 970.52,740.62 970.93,741.01 971.33,740.49 971.73,740.99 972.13,740.49 972.53,741.05 972.93,740.51 973.33,740.98 973.74,740.62 974.14,740.98 974.54,740.57 974.94,741.03 975.34,740.63 975.74,741.05 976.14,740.56 976.54,741.01 976.95,740.53 977.35,741.13 977.75,740.60 978.15,741.12 978.55,740.57 978.95,741.09 979.35,740.62 979.75,741.14 980.15,740.55 980.56,741.13 980.96,740.59 981.36,741.03 981.76,740.50 982.16,740.98 982.56,740.58 982.96,741.08 983.37,740.45 983.77,741.01 984.17,740.60 984.57,741.02 984.97,740.45 985.37,740.98 985.77,740.51 986.17,741.02 986.58,740.51 986.98,740.99 987.38,740.52 987.78,741.12 988.18,740.47 988.58,741.07 988.98,740.54 989.38,741.06 989.78,740.61 990.19,741.11 990.59,740.50 990.99,741.04 991.39,740.51 991.79,741.03 992.19,740.56 992.59,740.99 993.00,740.52 993.40,741.06 993.80,740.54 994.20,740.96 994.60,740.52 995.00,741.03 995.40,740.52 995.80,741.06 996.21,740.46 996.61,740.98 997.01,740.55 997.41,741.14 997.81,740.49 998.21,741.01 998.61,740.49 999.01,741.14 999.41,740.56 999.82,741.12 1000.22,740.61 1000.62,741.14 1001.02,740.54 1001.42,740.99 1001.82,740.48 1002.22,741.07 1002.62,740.46 1003.03,741.11 1003.43,740.48 1003.83,741.05 1004.23,740.45 1004.63,740.96 1005.03,740.47 1005.43,741.09 1005.84,740.59 1006.24,741.10 1006.64,740.55 1007.04,741.05 1007.44,740.47 1007.84,740.99 1008.24,740.58 1008.64,741.07 1009.04,740.62 1009.45,741.06 1009.85,740.49 1010.25,741.04 1010.65,740.59 1011.05,741.10 1011.45,740.47 1011.85,741.10 1012.25,740.53 1012.66,741.12 1013.06,740.48 1013.46,740.98 1013.86,740.57 1014.26,740.97 1014.66,740.63 1015.06,741.02 1015.47,740.47 1015.87,741.11 1016.27,740.61 1016.67,740.98 1017.07,740.56 1017.47,741.11 1017.87,740.52 1018.27,741.12 1018.67,740.62 1019.08,741.14 1019.48,740.60 1019.88,741.07 1020.28,740.47 1020.68,741.09 1021.08,740.60 1021.48,741.08 1021.88,740.55 1022.29,740.95 1022.69,740.57 1023.09,741.01 1023.49,740.52 1023.89,741.00 1024.29,740.52 1024.69,741.08 1025.10,740.60 1025.50,740.97 1025.90,740.50 1026.30,741.04 1026.70,740.61 1027.10,740.97 1027.50,740.46 1027.90,741.07 1028.31,740.57 1028.71,740.99 1029.11,740.45 1029.51,741.08 1029.91,740.49 1030.31,741.02 1030.71,740.58 1031.11,741.03 1031.52,740.61 1031.92,741.07 1032.32,740.55 1032.72,741.11 1033.12,740.56 1033.52,741.04 1033.92,740.54 1034.32,741.13 1034.72,740.57 1035.13,741.08 1035.53,740.59 1035.93,741.06 1036.33,740.58 1036.73,741.12 1037.13,740.58 1037.53,741.11 1037.93,740.51 1038.34,741.04 1038.74,740.46 1039.14,741.02 1039.54,740.49 1039.94,741.06 1040.34,740.55 1040.74,740.96 1041.14,740.56 1041.55,741.00 1041.95,740.55 1042.35,741.13 1042.75,740.79 1043.92,691.54"/>
<polyline stroke="#ffa500" points="1043.92,691.54 1044.25,677.65 1044.75,680.73 1045.25,688.51 1045.75,691.08 1046.20,687.96 1046.65,689.93 1047.10,685.80 1047.55,687.30 1048.00,684.86 1048.50,684.45 1049.00,689.69 1049.50,690.08 1049.92,687.78 1050.33,690.05 1050.75,685.78 1051.17,689.20 1051.58,684.58 1052.00,685.61 1052.42,687.61 1052.83,685.03 1053.25,688.64 1053.67,685.63 1054.08,688.55 1054.50,687.35 1054.94,685.72 1055.38,689.04 1055.81,685.11 1056.25,686.85 1056.67,685.00 1057.08,678.06 1057.50,676.91 1057.92,685.76 1058.33,689.11 1058.75,696.79 1059.25,691.16 1059.75,681.88 1061.50,702.51 1064.75,590.65 1066.00,597.36 1067.25,590.65 1067.67,590.87 1068.08,593.35 1068.50,593.64 1069.50,603.58 1071.00,715.93 1071.90,712.65"/>
<polyline stroke="#008000" points="1071.90,712.65 1072.50,710.47 1074.00,715.93 1074.50,714.17 1075.00,714.63 1075.50,712.95 1078.00,580.71 1080.50,638.38 1082.50,711.71 1084.25,673.18 1086.00,710.47 1087.50,699.28 1089.50,717.92 1089.90,716.03 1090.30,716.79 1090.70,713.86 1091.10,715.03 1091.50,712.95 1093.50,685.61 1094.50,706.74 1096.00,678.65 1096.42,679.52 1096.83,686.47 1097.25,688.09 1097.75,676.91 1098.25,671.71 1098.75,660.75 1099.25,663.81 1099.75,672.98 1100.25,675.67 1100.75,679.94 1101.25,688.05 1101.75,691.82 1103.50,638.88 1105.00,717.43 1105.42,716.15 1105.83,717.24 1106.25,715.19 1106.67,716.36 1107.08,714.12 1107.50,714.19 1107.92,715.20 1108.33,714.20 1108.75,715.79 1109.17,714.42 1109.58,716.19 1110.00,715.93 1111.75,679.39 1113.25,715.44 1114.25,700.52 1115.50,718.42 1115.91,717.70 1116.31,719.05 1116.72,717.18 1117.12,718.86 1117.53,717.15 1117.94,718.66 1118.34,716.62 1118.75,717.43 1119.17,718.22 1119.58,716.53 1120.00,717.70 1120.42,716.26 1120.83,717.61 1121.25,715.37 1121.67,717.30 1122.08,715.59 1122.50,715.93 1123.00,717.63 1123.50,717.92 1124.75,674.92 1126.25,722.40 1128.00,716.68 1128.41,716.08 1128.81,717.93 1129.22,716.77 1129.62,718.52 1130.03,717.09 1130.44,718.78 1130.84,717.64 1131.25,718.42 1131.67,719.22 1132.08,717.78 1132.50,718.87 1132.92,717.49 1133.33,718.92 1133.75,717.26 1134.17,718.83 1134.58,717.41 1135.00,718.65 1135.42,717.47 1135.83,718.82 1136.25,717.20 1136.67,718.76 1137.08,716.95 1137.50,717.92 1138.75,655.78 1140.00,670.69 1141.50,628.44 1143.00,683.12 1144.00,719.91 1145.50,710.47 1146.50,717.92 1148.00,708.48 1149.25,719.17 1149.66,719.50 1150.06,717.73 1150.47,719.10 1150.88,717.22 1151.28,718.89 1151.69,717.12 1152.09,718.50 1152.50,717.43 1153.00,714.92 1153.50,715.52 1154.00,712.95 1154.42,712.42 1154.83,713.86 1155.25,712.99 1155.67,714.77 1156.08,713.05 1156.50,714.19 1157.75,718.42 1159.00,661.25 1160.25,712.95 1161.50,666.22 1163.00,718.42 1164.25,710.47 1164.67,712.22 1165.08,711.54 1165.50,712.95 1167.25,652.80 1168.50,704.25 1170.00,673.18 1171.50,608.05 1173.00,688.09 1174.50,588.66 1175.50,663.24 1176.50,750.74 1177.50,735.82 1178.30,738.37"/>
<polyline stroke="#808000" points="1178.30,738.37 1178.75,739.80 1179.17,740.08 1179.58,739.68 1180.00,740.05 1180.42,739.68 1180.83,740.26 1181.25,739.66 1181.67,740.28 1182.08,739.82 1182.50,740.25 1182.92,739.86 1183.33,740.27 1183.75,739.90 1184.17,740.44 1184.58,739.91 1185.00,740.40 1185.42,739.90 1185.83,740.53 1186.25,739.89 1186.67,740.51 1187.08,740.02 1187.50,740.30 1187.90,740.62 1188.30,740.06 1188.71,740.51 1189.11,740.00 1189.51,740.50 1189.91,740.07 1190.32,740.53 1190.72,740.05 1191.12,740.52 1191.52,740.06 1191.93,740.54 1192.33,740.13 1192.73,740.61 1193.13,740.13 1193.53,740.55 1193.94,740.03 1194.34,740.53 1194.74,740.10 1195.14,740.47 1195.55,740.07 1195.95,740.51 1196.35,740.05 1196.75,740.50 1197.16,740.00 1197.56,740.55 1197.96,740.14 1198.36,740.53 1198.76,739.95 1199.17,740.45 1199.57,740.03 1199.97,740.64 1200.37,740.07 1200.78,740.57 1201.18,740.07 1201.58,740.51 1201.98,740.02 1202.39,740.56 1202.79,740.08 1203.19,740.55 1203.59,740.04 1203.99,740.60 1204.40,740.13 1204.80,740.47 1205.20,740.09 1205.60,740.50 1206.01,739.99 1206.41,740.53 1206.81,739.97 1207.21,740.53 1207.61,740.08 1208.02,740.58 1208.42,740.12 1208.82,740.64 1209.22,739.98 1209.63,740.51 1210.03,740.08 1210.43,740.61 1210.83,739.99 1211.24,740.57 1211.64,740.13 1212.04,740.60 1212.44,740.13 1212.84,740.57 1213.25,740.03 1213.65,740.63 1214.05,740.02 1214.45,740.46 1214.86,739.96 1215.26,740.60 1215.66,740.03 1216.06,740.45 1216.47,740.00 1216.87,740.53 1217.27,740.01 1217.67,740.64 1218.07,739.96 1218.48,740.47 1218.88,739.99 1219.28,740.54 1219.68,739.99 1220.09,740.52 1220.49,740.05 1220.89,740.54 1221.29,740.12 1221.70,740.51 1221.80,740.38"/>
<polyline stroke="#ff00ff" points="1221.80,740.38 1222.10,740.00 1222.50,740.30 1224.00,677.65 1224.42,679.77 1224.83,678.47 1225.25,680.64 1226.75,659.01 1228.50,712.95 1229.00,712.70 1229.50,710.47 1230.75,715.93 1232.25,690.08 1234.00,714.19 1234.45,713.65 1234.90,715.71 1235.35,714.68 1235.80,716.15 1236.25,715.93 1236.67,715.20 1237.08,716.89 1237.50,714.94 1237.92,716.76 1238.33,715.04 1238.75,716.35 1239.17,714.73 1239.58,716.49 1240.00,715.44 1241.75,684.37 1243.20,713.82"/>
<polyline stroke="#008000" points="1243.20,713.82 1243.50,719.91 1245.00,714.19 1246.75,706.74 1248.00,715.44 1248.41,715.12 1248.81,716.95 1249.22,715.41 1249.62,716.94 1250.03,715.93 1250.44,717.65 1250.84,716.28 1251.25,717.43 1251.67,717.98 1252.08,715.64 1252.50,716.84 1252.92,714.71 1253.33,715.90 1253.75,713.89 1254.17,714.89 1254.58,712.86 1255.00,712.95 1256.75,678.65 1258.50,724.88 1260.00,717.43 1260.42,718.42 1260.83,717.10 1261.25,718.56 1261.67,717.42 1262.08,718.85 1262.50,717.45 1262.92,719.25 1263.33,717.86 1263.75,719.57 1264.17,717.88 1264.58,719.73 1265.00,719.17 1265.40,718.32 1265.80,719.95 1266.20,718.08 1266.60,719.86 1267.00,718.25 1267.40,719.80 1267.80,718.52 1268.20,720.10 1268.60,718.33 1269.00,719.81 1269.40,718.64 1269.80,720.15 1270.20,718.45 1270.60,720.09 1271.00,718.41 1271.40,720.03 1271.80,718.34 1272.20,720.25 1272.60,718.13 1273.00,719.93 1273.40,718.38 1273.80,719.80 1274.20,718.22 1274.60,719.72 1275.00,719.17 1275.41,718.42 1275.82,720.03 1276.23,718.45 1276.64,719.81 1277.05,717.99 1277.45,719.58 1277.86,718.00 1278.27,719.21 1278.68,717.49 1279.09,719.44 1279.50,718.42 1280.75,703.01 1282.25,721.65 1282.69,719.74 1283.12,720.34 1283.56,717.89 1284.00,717.92 1285.50,710.47 1287.00,719.17 1287.43,719.68 1287.86,718.34 1288.29,719.66 1288.71,717.88 1289.14,719.20 1289.57,717.57 1290.00,718.42 1290.42,719.07 1290.83,717.00 1291.25,718.89 1291.67,716.74 1292.08,718.17 1292.50,716.20 1292.92,717.99 1293.33,716.21 1293.75,716.68 1295.50,707.98 1296.75,715.44 1298.25,693.07 1298.75,694.55 1299.25,691.82 1302.50,641.36 1304.50,683.12 1306.50,712.95 1307.00,713.27 1307.50,716.09 1308.00,716.68 1308.40,715.29 1308.80,715.69 1309.20,713.63 1309.60,714.34 1310.00,712.95 1310.42,712.78 1310.83,714.59 1311.25,713.87 1311.67,715.72 1312.08,714.78 1312.50,715.93 1312.92,716.10 1313.33,714.28 1313.75,715.24 1314.17,712.93 1314.58,714.04 1315.00,712.95 1315.42,712.22 1315.83,714.51 1316.25,712.92 1316.67,714.88 1317.08,713.40 1317.50,715.42 1317.92,714.00 1318.33,716.21 1318.75,715.44 1319.17,714.69 1319.58,716.50 1320.00,715.53 1320.42,717.32 1320.83,715.76 1321.25,716.68 1321.66,717.34 1322.06,715.43 1322.47,716.51 1322.88,714.72 1323.28,716.06 1323.69,713.76 1324.09,715.30 1324.50,714.19 1324.93,713.61 1325.36,715.39 1325.79,714.31 1326.21,716.25 1326.64,714.88 1327.07,716.74 1327.50,715.93 1327.93,715.05 1328.36,716.47 1328.79,714.90 1329.21,716.49 1329.64,715.10 1330.07,716.50 1330.50,715.93 1332.00,709.47 1333.50,717.43 1333.96,715.68 1334.42,716.78 1334.88,714.42 1335.33,715.30 1335.79,713.22 1336.25,713.45 1336.69,714.60 1337.12,714.18 1337.56,716.15 1338.00,715.93 1338.41,714.85 1338.82,716.84 1339.23,714.93 1339.64,716.90 1340.05,715.13 1340.46,716.47 1340.88,715.13 1341.29,716.54 1341.70,715.13 1342.11,716.64 1342.52,715.14 1342.93,716.55 1343.34,715.02 1343.75,715.93 1344.17,716.06 1344.58,713.91 1345.00,714.61 1345.42,712.66 1345.83,713.66 1346.25,712.21 1346.69,712.06 1347.12,714.90 1347.56,714.43 1348.00,715.93 1348.41,716.65 1348.82,715.33 1349.24,716.98 1349.65,715.05 1350.06,717.23 1350.47,715.13 1350.88,717.29 1351.29,715.28 1351.71,717.38 1352.12,715.87 1352.53,717.20 1352.94,715.61 1353.35,717.41 1353.76,715.69 1354.18,717.45 1354.59,715.58 1355.00,716.68 1355.40,717.20 1355.81,715.83 1356.21,717.68 1356.61,716.07 1357.02,717.12 1357.42,715.52 1357.82,717.58 1358.23,715.98 1358.63,716.98 1359.03,715.45 1359.44,717.32 1359.84,715.59 1360.24,717.21 1360.65,715.40 1361.05,717.30 1361.45,715.80 1361.85,716.80 1362.26,715.28 1362.66,717.30 1363.06,715.21 1363.47,716.91 1363.87,715.46 1364.27,716.83 1364.68,715.60 1365.08,717.03 1365.48,715.41 1365.89,716.88 1366.29,715.20 1366.69,716.68 1367.10,715.06 1367.50,715.93 1367.90,716.70 1368.31,715.30 1368.71,716.96 1369.11,715.34 1369.52,716.52 1369.92,715.29 1370.32,716.72 1370.73,714.97 1371.13,716.63 1371.53,715.30 1371.94,716.82 1372.34,715.29 1372.74,716.74 1373.15,715.29 1373.55,716.95 1373.95,715.33 1374.35,716.57 1374.76,715.26 1375.16,716.63 1375.56,715.01 1375.97,716.83 1376.37,714.97 1376.77,716.75 1377.18,715.40 1377.58,716.89 1377.98,715.30 1378.39,716.56 1378.79,715.19 1379.19,717.02 1379.60,715.22 1380.00,715.93 1380.40,716.63 1380.81,714.86 1381.21,716.97 1381.61,715.15 1382.02,716.43 1382.42,714.87 1382.82,716.79 1383.23,715.11 1383.63,716.76 1384.03,715.05 1384.44,716.42 1384.84,714.89 1385.24,716.66 1385.65,714.93 1386.05,716.68 1386.45,715.18 1386.85,716.45 1387.26,714.93 1387.66,716.16 1388.06,714.57 1388.47,716.18 1388.87,714.97 1389.27,716.59 1389.68,714.48 1390.08,716.59 1390.48,714.82 1390.89,716.55 1391.29,714.91 1391.50,715.68"/>
<polyline stroke="#800080" points="1391.50,715.68 1391.69,716.39 1392.10,714.39 1392.50,715.44 1394.00,707.98 1395.50,690.08 1397.00,705.49 1398.00,698.04 1398.50,691.69 1399.00,681.59 1399.50,675.17 1401.25,714.19 1402.50,707.98 1402.94,709.81 1403.38,708.82 1403.81,711.71 1404.25,711.71 1404.75,710.23 1405.25,711.65 1405.75,710.47 1407.00,665.72 1408.00,707.98 1409.25,658.76 1410.75,710.47 1411.19,710.99 1411.62,713.52 1412.06,713.54 1412.50,715.44 1414.00,693.07 1414.50,690.06 1415.00,682.63 1415.50,685.48 1416.00,690.58 1416.42,689.19 1416.83,683.81 1417.25,682.63 1417.67,686.53 1418.08,686.85 1418.50,691.08 1418.90,691.24 1419.30,687.71 1419.70,689.49 1420.10,684.99 1420.50,685.61 1420.90,688.10 1421.30,685.11 1421.70,689.54 1422.10,686.37 1422.50,689.34 1422.90,689.62 1423.30,686.34 1423.70,687.93 1424.10,684.54 1424.50,685.11 1424.93,687.35 1425.36,683.42 1425.79,687.52 1426.21,684.88 1426.64,687.80 1427.07,684.86 1427.50,686.85 1427.92,688.67 1428.33,685.65 1428.75,688.09 1429.25,685.13 1429.75,677.65 1430.17,682.68 1430.58,692.70 1431.00,697.54 1431.42,690.48 1431.83,689.21 1432.25,682.63 1434.00,703.01 1435.50,663.24 1437.00,590.65 1438.25,597.36 1439.50,591.65 1439.92,592.12 1440.33,594.86 1440.75,594.88 1442.00,613.52 1443.25,719.17 1443.60,717.14"/>
<polyline stroke="#008000" points="1443.60,717.14 1444.75,710.47 1446.25,715.44 1446.75,713.53 1447.25,714.29 1447.75,712.95 1449.00,663.24 1450.50,586.18 1452.50,638.38 1454.25,701.77 1455.25,680.64 1455.75,672.68 1456.25,670.24 1456.75,662.74 1457.17,671.34 1457.58,683.36 1458.00,691.82 1458.42,691.65 1458.83,695.93 1459.25,695.05 1461.00,712.95 1462.50,717.92 1462.90,716.31 1463.30,716.44 1463.70,714.32 1464.10,714.92 1464.50,712.95 1466.25,685.11 1467.25,705.49 1468.50,679.39 1469.00,684.57 1469.50,693.07 1470.00,684.97 1470.50,671.57 1471.00,663.24 1471.50,669.63 1472.00,672.46 1472.50,678.65 1472.94,682.92 1473.38,683.28 1473.81,688.58 1474.25,690.08 1476.00,639.62 1477.50,722.90 1477.90,720.79 1478.30,721.12 1478.70,718.39 1479.10,718.79 1479.50,716.68 1479.94,716.31 1480.38,718.01 1480.81,716.59 1481.25,717.92 1482.75,711.71 1484.00,717.92 1486.00,705.00 1487.25,719.91 1487.71,720.42 1488.17,718.51 1488.62,719.73 1489.08,717.82 1489.54,718.95 1490.00,717.92 1490.42,716.74 1490.83,718.28 1491.25,716.45 1491.67,718.38 1492.08,716.21 1492.50,717.68 1492.92,716.16 1493.33,717.90 1493.75,716.68 1494.15,716.16 1494.55,717.57 1494.95,716.20 1495.35,717.91 1495.75,717.43 1497.00,674.92 1498.50,722.90 1498.90,720.81 1499.30,721.00 1499.70,718.10 1500.10,718.59 1500.50,716.68 1500.91,716.30 1501.32,717.92 1501.73,716.48 1502.14,718.18 1502.55,716.73 1502.95,718.73 1503.36,717.05 1503.77,718.74 1504.18,717.69 1504.59,719.14 1505.00,718.52 1505.45,717.35 1505.90,718.32 1506.35,716.10 1506.80,717.22 1507.25,715.93 1507.69,716.38 1508.12,718.72 1508.56,718.14 1509.00,719.91 1510.60,688.09 1511.00,655.18 1512.50,669.45 1513.50,633.41 1514.60,673.18 1515.10,688.69 1515.60,700.52 1516.25,719.17 1517.25,710.96 1518.25,719.42 1518.75,710.47 1519.17,708.36 1519.58,709.07 1520.00,707.38 1521.50,717.92 1521.91,717.17 1522.33,718.47 1522.74,716.95 1523.16,718.56 1523.57,716.93 1523.99,718.90 1524.40,717.92 1525.40,700.52 1525.83,689.26 1526.27,682.87 1526.70,670.79 1527.22,684.00 1527.75,700.52 1528.75,720.91 1529.75,712.95 1530.75,669.20 1531.12,667.29 1531.50,662.24 1531.88,679.66 1532.25,700.52 1532.90,716.68 1534.00,702.41 1534.42,703.59 1534.83,701.86 1535.25,702.76 1536.25,718.52 1536.67,718.69 1537.08,716.63 1537.50,716.68 1537.94,717.86 1538.39,716.24 1538.83,717.91 1539.27,716.78 1539.71,718.19 1540.16,716.75 1540.60,717.92 1541.60,700.52 1542.10,702.36 1542.60,697.87 1543.10,699.93 1543.75,720.91 1544.17,720.96 1544.58,718.01 1545.00,717.92 1545.42,718.93 1545.83,717.07 1546.25,719.00 1546.67,717.08 1547.08,718.69 1547.50,717.14 1547.92,718.83 1548.33,717.55 1548.75,719.27 1549.17,717.75 1549.58,719.09 1550.00,717.62 1550.42,719.32 1550.83,717.53 1551.25,719.46 1551.67,717.40 1552.08,719.37 1552.50,718.52 1552.92,717.38 1553.33,718.19 1553.75,716.68 1554.17,717.17 1554.58,719.85 1555.00,719.81 1555.42,718.76 1555.83,720.42 1556.25,719.10 1556.67,720.58 1557.08,718.68 1557.50,720.68 1557.92,718.69 1558.33,720.09 1558.75,718.56 1559.17,719.98 1559.58,718.40 1560.00,720.34 1560.42,718.38 1560.83,720.33 1561.25,718.44 1561.67,720.30 1562.08,718.33 1562.50,719.17 1562.95,719.21 1563.40,716.95 1563.85,717.63 1564.30,715.68 1564.75,715.44 1565.25,717.27 1565.75,716.95 1566.25,719.17 1566.67,719.72 1567.08,718.14 1567.50,719.91 1567.92,717.97 1568.33,719.61 1568.75,718.05 1569.17,719.32 1569.58,717.99 1570.00,718.52 1570.42,719.12 1570.83,717.05 1571.25,717.67 1571.71,718.95 1572.17,717.41 1572.64,719.36 1573.10,718.52 1573.51,716.24 1573.92,716.70 1574.34,713.73 1574.75,713.55 1575.60,700.52 1576.17,693.63 1576.75,683.12 1577.75,710.47 1578.40,724.78 1579.40,716.68 1579.86,716.07 1580.33,718.56 1580.79,717.37 1581.25,718.52 1581.67,719.28 1582.08,717.91 1582.50,719.60 1582.92,718.40 1583.33,720.03 1583.75,718.30 1584.17,719.99 1584.58,718.38 1585.00,719.42"/>
</g>
<g stroke="#000" stroke-width="1.11" fill="none" stroke-linecap="butt">
<rect x="69.5" y="37.5" width="1516.0" height="201.0"/>
<line x1="69.5" y1="238.5" x2="69.5" y2="243.7"/>
<line x1="360.5" y1="238.5" x2="360.5" y2="243.7"/>
<line x1="651.5" y1="238.5" x2="651.5" y2="243.7"/>
<line x1="942.5" y1="238.5" x2="942.5" y2="243.7"/>
<line x1="1233.5" y1="238.5" x2="1233.5" y2="243.7"/>
<line x1="1524.5" y1="238.5" x2="1524.5" y2="243.7"/>
<line x1="64.4" y1="225.5" x2="69.5" y2="225.5"/>
<line x1="64.4" y1="195.5" x2="69.5" y2="195.5"/>
<line x1="64.4" y1="165.5" x2="69.5" y2="165.5"/>
<line x1="64.4" y1="136.5" x2="69.5" y2="136.5"/>
<line x1="64.4" y1="106.5" x2="69.5" y2="106.5"/>
<line x1="64.4" y1="76.5" x2="69.5" y2="76.5"/>
<line x1="64.4" y1="46.5" x2="69.5" y2="46.5"/>
</g>
<g font-size="13.89" fill="#000">
<text transform="translate(69.10,259.25) scale(0.982,1)" text-anchor="middle">0</text>
<text transform="translate(360.10,259.25) scale(0.982,1)" text-anchor="middle">20000</text>
<text transform="translate(651.10,259.25) scale(0.982,1)" text-anchor="middle">40000</text>
<text transform="translate(942.10,259.25) scale(0.982,1)" text-anchor="middle">60000</text>
<text transform="translate(1233.10,259.25) scale(0.982,1)" text-anchor="middle">80000</text>
<text transform="translate(1524.10,259.25) scale(0.982,1)" text-anchor="middle">100000</text>
<text transform="translate(58.75,230.70) scale(0.975,1)" text-anchor="end">0</text>
<text transform="translate(58.75,200.70) scale(0.975,1)" text-anchor="end">2500</text>
<text transform="translate(58.75,170.70) scale(0.975,1)" text-anchor="end">5000</text>
<text transform="translate(58.75,141.70) scale(0.975,1)" text-anchor="end">7500</text>
<text transform="translate(58.75,111.70) scale(0.975,1)" text-anchor="end">10000</text>
<text transform="translate(58.75,81.70) scale(0.975,1)" text-anchor="end">12500</text>
<text transform="translate(58.75,51.70) scale(0.975,1)" text-anchor="end">15000</text>
</g>
<text transform="translate(826.60,28.90) scale(0.996,1.08)" text-anchor="middle" font-size="16.67" fill="#000">Initial Trace</text>
<g stroke="#000" stroke-width="1.11" fill="none" stroke-linecap="butt">
<rect x="69.5" y="299.5" width="1516.0" height="201.0"/>
<line x1="69.5" y1="500.5" x2="69.5" y2="505.7"/>
<line x1="360.5" y1="500.5" x2="360.5" y2="505.7"/>
<line x1="651.5" y1="500.5" x2="651.5" y2="505.7"/>
<line x1="942.5" y1="500.5" x2="942.5" y2="505.7"/>
<line x1="1233.5" y1="500.5" x2="1233.5" y2="505.7"/>
<line x1="1524.5" y1="500.5" x2="1524.5" y2="505.7"/>
<line x1="64.4" y1="487.5" x2="69.5" y2="487.5"/>
<line x1="64.4" y1="457.5" x2="69.5" y2="457.5"/>
<line x1="64.4" y1="427.5" x2="69.5" y2="427.5"/>
<line x1="64.4" y1="398.5" x2="69.5" y2="398.5"/>
<line x1="64.4" y1="368.5" x2="69.5" y2="368.5"/>
<line x1="64.4" y1="338.5" x2="69.5" y2="338.5"/>
<line x1="64.4" y1="308.5" x2="69.5" y2="308.5"/>
</g>
<g font-size="13.89" fill="#000">
<text transform="translate(69.10,520.30) scale(0.982,1)" text-anchor="middle">0</text>
<text transform="translate(360.10,520.30) scale(0.982,1)" text-anchor="middle">20000</text>
<text transform="translate(651.10,520.30) scale(0.982,1)" text-anchor="middle">40000</text>
<text transform="translate(942.10,520.30) scale(0.982,1)" text-anchor="middle">60000</text>
<text transform="translate(1233.10,520.30) scale(0.982,1)" text-anchor="middle">80000</text>
<text transform="translate(1524.10,520.30) scale(0.982,1)" text-anchor="middle">100000</text>
<text transform="translate(58.75,492.70) scale(0.975,1)" text-anchor="end">0</text>
<text transform="translate(58.75,462.70) scale(0.975,1)" text-anchor="end">2500</text>
<text transform="translate(58.75,432.70) scale(0.975,1)" text-anchor="end">5000</text>
<text transform="translate(58.75,403.70) scale(0.975,1)" text-anchor="end">7500</text>
<text transform="translate(58.75,373.70) scale(0.975,1)" text-anchor="end">10000</text>
<text transform="translate(58.75,343.70) scale(0.975,1)" text-anchor="end">12500</text>
<text transform="translate(58.75,313.70) scale(0.975,1)" text-anchor="end">15000</text>
</g>
<text transform="translate(826.60,290.90) scale(0.996,1.08)" text-anchor="middle" font-size="16.67" fill="#000">Estimated Labeled trace (accuracy = 0.664)</text>
<g stroke="#000" stroke-width="1.11" fill="none" stroke-linecap="butt">
<rect x="69.5" y="561.5" width="1516.0" height="200.0"/>
<line x1="69.5" y1="761.5" x2="69.5" y2="766.7"/>
<line x1="360.5" y1="761.5" x2="360.5" y2="766.7"/>
<line x1="651.5" y1="761.5" x2="651.5" y2="766.7"/>
<line x1="942.5" y1="761.5" x2="942.5" y2="766.7"/>
<line x1="1233.5" y1="761.5" x2="1233.5" y2="766.7"/>
<line x1="1524.5" y1="761.5" x2="1524.5" y2="766.7"/>
<line x1="64.4" y1="748.5" x2="69.5" y2="748.5"/>
<line x1="64.4" y1="718.5" x2="69.5" y2="718.5"/>
<line x1="64.4" y1="688.5" x2="69.5" y2="688.5"/>
<line x1="64.4" y1="659.5" x2="69.5" y2="659.5"/>
<line x1="64.4" y1="629.5" x2="69.5" y2="629.5"/>
<line x1="64.4" y1="599.5" x2="69.5" y2="599.5"/>
<line x1="64.4" y1="570.5" x2="69.5" y2="570.5"/>
</g>
<g font-size="13.89" fill="#000">
<text transform="translate(69.10,782.05) scale(0.982,1)" text-anchor="middle">0</text>
<text transform="translate(360.10,782.05) scale(0.982,1)" text-anchor="middle">20000</text>
<text transform="translate(651.10,782.05) scale(0.982,1)" text-anchor="middle">40000</text>
<text transform="translate(942.10,782.05) scale(0.982,1)" text-anchor="middle">60000</text>
<text transform="translate(1233.10,782.05) scale(0.982,1)" text-anchor="middle">80000</text>
<text transform="translate(1524.10,782.05) scale(0.982,1)" text-anchor="middle">100000</text>
<text transform="translate(58.75,753.70) scale(0.975,1)" text-anchor="end">0</text>
<text transform="translate(58.75,723.70) scale(0.975,1)" text-anchor="end">2500</text>
<text transform="translate(58.75,693.70) scale(0.975,1)" text-anchor="end">5000</text>
<text transform="translate(58.75,664.70) scale(0.975,1)" text-anchor="end">7500</text>
<text transform="translate(58.75,634.70) scale(0.975,1)" text-anchor="end">10000</text>
<text transform="translate(58.75,604.70) scale(0.975,1)" text-anchor="end">12500</text>
<text transform="translate(58.75,575.70) scale(0.975,1)" text-anchor="end">15000</text>
</g>
<text transform="translate(826.60,551.90) scale(0.996,1.08)" text-anchor="middle" font-size="16.67" fill="#000">Real Labeled trace</text>
<g>
<rect x="1484" y="335.5" width="110" height="130" rx="3.5" ry="3.5" fill="#b4b4b4" fill-opacity="0.8" stroke="#cccccc" stroke-opacity="0.8" stroke-width="1"/>
<line x1="1490.1" y1="346.60" x2="1517.9" y2="346.60" stroke="#0000ff" stroke-width="2.08" stroke-linecap="square"/>
<text transform="translate(1528.9,350.75) scale(0.975,1)" font-size="13.89" fill="#000">HIGH</text>
<line x1="1490.1" y1="367.65" x2="1517.9" y2="367.65" stroke="#ffa500" stroke-width="2.08" stroke-linecap="square"/>
<text transform="translate(1528.9,371.80) scale(0.975,1)" font-size="13.89" fill="#000">BOOTUP</text>
<line x1="1490.1" y1="388.70" x2="1517.9" y2="388.70" stroke="#008000" stroke-width="2.08" stroke-linecap="square"/>
<text transform="translate(1528.9,392.85) scale(0.975,1)" font-size="13.89" fill="#000">ON</text>
<line x1="1490.1" y1="409.75" x2="1517.9" y2="409.75" stroke="#ff0000" stroke-width="2.08" stroke-linecap="square"/>
<text transform="translate(1528.9,413.90) scale(0.975,1)" font-size="13.89" fill="#000">OFF</text>
<line x1="1490.1" y1="430.80" x2="1517.9" y2="430.80" stroke="#ff00ff" stroke-width="2.08" stroke-linecap="square"/>
<text transform="translate(1528.9,434.95) scale(0.975,1)" font-size="13.89" fill="#000">WAKEUP</text>
<line x1="1490.1" y1="451.85" x2="1517.9" y2="451.85" stroke="#800080" stroke-width="2.08" stroke-linecap="square"/>
<text transform="translate(1528.9,456.00) scale(0.975,1)" font-size="13.89" fill="#000">REBOOT</text>
</g>
</svg>
</body></html>
